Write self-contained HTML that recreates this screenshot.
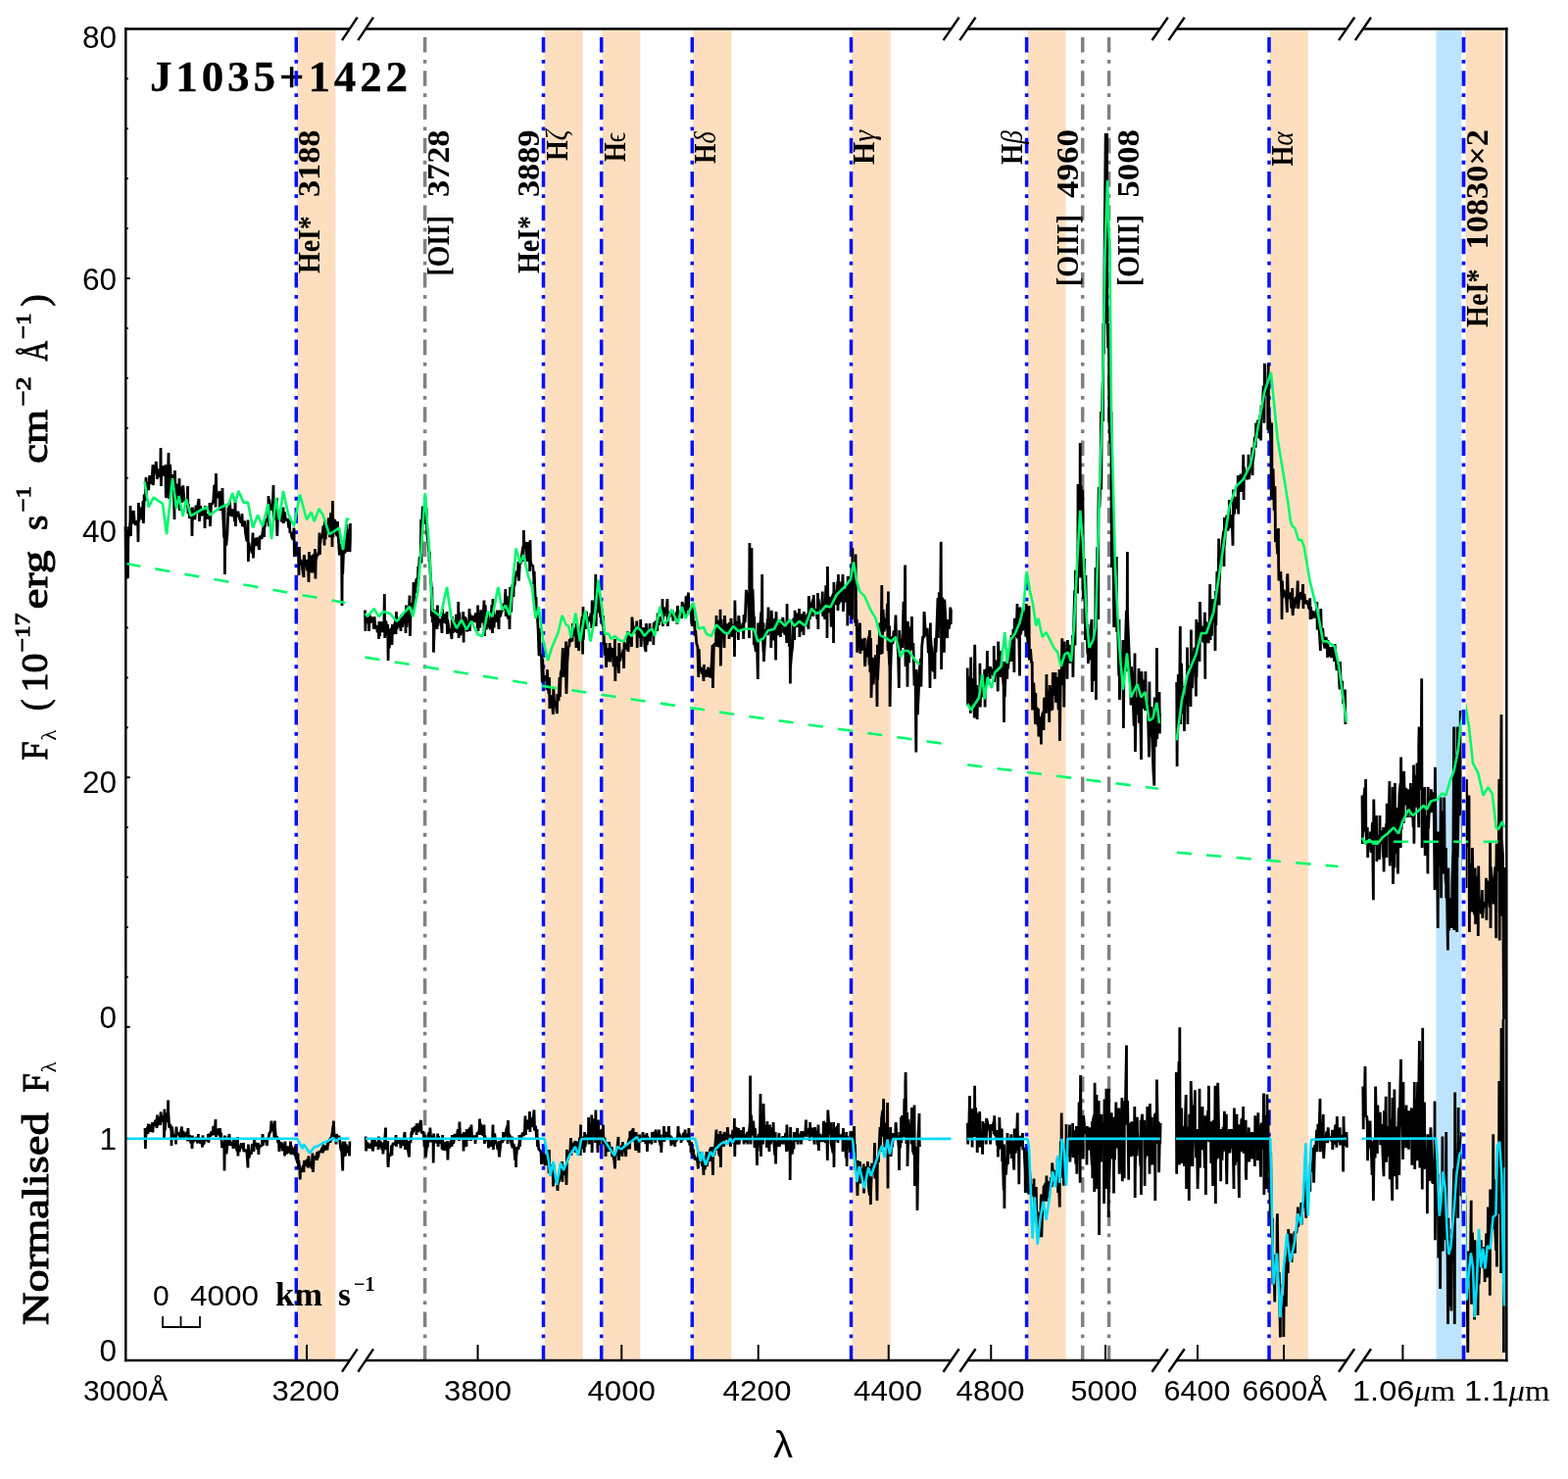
<!DOCTYPE html>
<html><head><meta charset="utf-8"><style>html,body{margin:0;padding:0;background:#fff;}svg{display:block;}</style></head>
<body><svg width="1600" height="1509" viewBox="0 0 1600 1509">
<rect width="1600" height="1509" fill="#fff"/>
<rect x="1465.5" y="30.7" width="26.09999999999991" height="1356.0" fill="#bee4fd"/>
<rect x="303.1" y="30.7" width="39.299999999999955" height="1356.0" fill="#fddfc0"/>
<rect x="555.5" y="30.7" width="39.200000000000045" height="1356.0" fill="#fddfc0"/>
<rect x="614.6" y="30.7" width="38.799999999999955" height="1356.0" fill="#fddfc0"/>
<rect x="707.2" y="30.7" width="39.299999999999955" height="1356.0" fill="#fddfc0"/>
<rect x="869.4" y="30.7" width="39.200000000000045" height="1356.0" fill="#fddfc0"/>
<rect x="1048.5" y="30.7" width="39.09999999999991" height="1356.0" fill="#fddfc0"/>
<rect x="1295.8" y="30.7" width="39.200000000000045" height="1356.0" fill="#fddfc0"/>
<rect x="1494.6" y="30.7" width="39.200000000000045" height="1356.0" fill="#fddfc0"/>
<text x="153" y="93" style="font-family:'Liberation Serif',serif;font-weight:bold;font-size:45px" stroke="#000" stroke-width="0.3" textLength="263" lengthAdjust="spacing">J1035+1422</text>
<line x1="302.3" y1="37.9" x2="302.3" y2="1049.0" stroke="#0010ff" stroke-width="3.5" stroke-dasharray="15.6 7.45 3.8 7.45"/>
<line x1="302.3" y1="1388.3" x2="302.3" y2="1049.0" stroke="#0010ff" stroke-width="3.5" stroke-dasharray="15.6 7.45 3.8 7.45"/>
<line x1="554.5" y1="37.9" x2="554.5" y2="1049.0" stroke="#0010ff" stroke-width="3.5" stroke-dasharray="15.6 7.45 3.8 7.45"/>
<line x1="554.5" y1="1388.3" x2="554.5" y2="1049.0" stroke="#0010ff" stroke-width="3.5" stroke-dasharray="15.6 7.45 3.8 7.45"/>
<line x1="613.7" y1="37.9" x2="613.7" y2="1049.0" stroke="#0010ff" stroke-width="3.5" stroke-dasharray="15.6 7.45 3.8 7.45"/>
<line x1="613.7" y1="1388.3" x2="613.7" y2="1049.0" stroke="#0010ff" stroke-width="3.5" stroke-dasharray="15.6 7.45 3.8 7.45"/>
<line x1="706.3" y1="37.9" x2="706.3" y2="1049.0" stroke="#0010ff" stroke-width="3.5" stroke-dasharray="15.6 7.45 3.8 7.45"/>
<line x1="706.3" y1="1388.3" x2="706.3" y2="1049.0" stroke="#0010ff" stroke-width="3.5" stroke-dasharray="15.6 7.45 3.8 7.45"/>
<line x1="868.5" y1="37.9" x2="868.5" y2="1049.0" stroke="#0010ff" stroke-width="3.5" stroke-dasharray="15.6 7.45 3.8 7.45"/>
<line x1="868.5" y1="1388.3" x2="868.5" y2="1049.0" stroke="#0010ff" stroke-width="3.5" stroke-dasharray="15.6 7.45 3.8 7.45"/>
<line x1="1047.6" y1="37.9" x2="1047.6" y2="1049.0" stroke="#0010ff" stroke-width="3.5" stroke-dasharray="15.6 7.45 3.8 7.45"/>
<line x1="1047.6" y1="1388.3" x2="1047.6" y2="1049.0" stroke="#0010ff" stroke-width="3.5" stroke-dasharray="15.6 7.45 3.8 7.45"/>
<line x1="1295.0" y1="37.9" x2="1295.0" y2="1049.0" stroke="#0010ff" stroke-width="3.5" stroke-dasharray="15.6 7.45 3.8 7.45"/>
<line x1="1295.0" y1="1388.3" x2="1295.0" y2="1049.0" stroke="#0010ff" stroke-width="3.5" stroke-dasharray="15.6 7.45 3.8 7.45"/>
<line x1="1493.2" y1="37.9" x2="1493.2" y2="1049.0" stroke="#0010ff" stroke-width="3.5" stroke-dasharray="15.6 7.45 3.8 7.45"/>
<line x1="1493.2" y1="1388.3" x2="1493.2" y2="1049.0" stroke="#0010ff" stroke-width="3.5" stroke-dasharray="15.6 7.45 3.8 7.45"/>
<line x1="433.6" y1="37.9" x2="433.6" y2="1049.0" stroke="#808080" stroke-width="3.5" stroke-dasharray="15.6 7.45 3.8 7.45"/>
<line x1="433.6" y1="1388.3" x2="433.6" y2="1049.0" stroke="#808080" stroke-width="3.5" stroke-dasharray="15.6 7.45 3.8 7.45"/>
<line x1="1104.7" y1="37.9" x2="1104.7" y2="1049.0" stroke="#808080" stroke-width="3.5" stroke-dasharray="15.6 7.45 3.8 7.45"/>
<line x1="1104.7" y1="1388.3" x2="1104.7" y2="1049.0" stroke="#808080" stroke-width="3.5" stroke-dasharray="15.6 7.45 3.8 7.45"/>
<line x1="1131.6" y1="37.9" x2="1131.6" y2="1049.0" stroke="#808080" stroke-width="3.5" stroke-dasharray="15.6 7.45 3.8 7.45"/>
<line x1="1131.6" y1="1388.3" x2="1131.6" y2="1049.0" stroke="#808080" stroke-width="3.5" stroke-dasharray="15.6 7.45 3.8 7.45"/>
<polyline points="128.0,537.0 128.4,582.0 128.6,565.5 129.7,575.5 130.0,540.0 130.4,590.0 130.8,549.6 131.8,543.8 132.9,531.4 133.0,516.0 133.4,547.0 134.0,521.4 135.1,531.2 136.0,534.0 136.2,523.1 136.4,521.0 137.3,533.5 138.4,535.5 139.5,532.3 140.6,531.8 141.0,553.0 141.4,513.0 141.7,532.3 142.8,520.7 143.9,517.7 145.0,530.5 146.0,511.0 146.1,525.7 146.4,534.0 147.2,504.4 148.3,510.0 149.0,487.0 149.4,511.0 149.4,500.3 150.5,491.3 151.6,500.2 152.7,485.0 153.8,492.9 154.9,492.4 156.0,474.0 156.0,492.3 156.4,495.0 157.1,478.5 158.2,482.9 159.3,470.8 160.4,488.8 161.5,478.5 162.6,486.9 163.7,484.6 164.0,457.0 164.4,496.0 164.8,477.9 165.9,475.4 167.0,484.9 168.1,484.7 169.0,474.0 169.2,501.3 169.4,508.0 170.3,479.8 171.4,485.2 172.0,462.0 172.4,509.0 172.5,488.8 173.6,473.9 174.7,495.2 175.8,487.4 176.9,484.5 178.0,530.0 178.0,497.5 178.4,480.0 179.1,503.2 180.2,493.6 181.3,509.0 182.4,517.2 183.0,488.0 183.4,521.0 183.5,506.0 184.6,496.5 185.7,512.8 186.8,495.4 187.9,511.2 189.0,509.0 190.1,514.2 191.2,516.7 191.5,496.0 191.9,524.0 192.3,514.1 193.4,529.0 194.5,518.8 195.6,520.6 196.0,547.0 196.4,517.5 196.7,530.6 197.8,521.0 198.9,530.1 200.0,515.7 201.1,523.7 202.2,513.0 203.0,509.0 203.3,525.9 203.4,532.0 204.4,515.9 205.5,526.1 206.6,524.2 207.7,521.8 208.8,519.4 209.0,539.0 209.4,516.0 209.9,529.5 211.0,525.7 212.1,525.3 213.2,529.7 214.0,513.0 214.3,528.2 214.4,537.0 215.4,514.8 216.5,513.9 217.6,512.1 218.7,495.4 219.8,495.5 220.0,517.5 220.4,483.0 220.9,505.9 222.0,504.7 223.1,508.2 224.0,501.0 224.2,517.2 224.4,521.0 225.3,504.5 226.4,513.8 227.0,498.0 227.4,524.0 227.5,521.1 228.6,548.7 229.0,517.0 229.4,586.0 229.7,547.8 230.8,556.6 231.9,545.4 233.0,517.5 234.0,526.0 234.1,514.1 234.4,511.0 235.2,523.5 236.3,526.7 237.4,519.4 238.5,522.6 239.6,532.4 240.0,511.0 240.4,537.0 240.7,523.1 241.8,526.5 242.9,521.8 244.0,528.2 245.1,530.9 246.2,533.6 247.0,524.0 247.3,532.0 247.4,537.0 248.4,535.6 249.5,531.4 250.6,544.3 251.7,551.3 252.8,551.9 253.0,530.5 253.4,573.0 253.9,553.7 255.0,560.2 256.1,559.3 257.2,564.5 258.0,543.5 258.3,558.1 258.4,569.5 259.4,549.4 260.5,557.0 261.6,548.8 262.7,550.7 263.8,557.4 264.6,561.0 264.9,550.2 265.0,547.0 266.0,547.8 267.1,549.8 268.2,541.6 269.3,536.1 269.5,548.0 269.9,534.0 270.4,537.5 271.5,530.4 272.6,529.9 273.7,528.4 274.0,506.0 274.4,537.0 274.8,509.4 275.9,520.2 277.0,514.2 278.1,521.1 279.0,495.0 279.2,526.1 279.4,530.5 280.3,513.9 281.4,529.8 282.5,508.0 282.5,533.4 282.9,547.0 283.6,520.9 284.7,524.2 285.8,527.0 286.9,530.9 288.1,532.2 289.0,517.5 289.2,526.2 289.4,534.0 290.3,522.4 291.4,529.7 292.5,531.0 293.6,529.2 294.7,538.7 295.5,530.5 295.8,542.5 295.9,543.5 296.9,542.9 298.0,548.7 299.1,550.7 300.0,538.6 300.2,554.7 300.4,568.0 301.3,553.3 302.4,563.6 303.5,564.3 304.6,566.5 305.0,587.0 305.4,558.0 305.7,572.3 306.8,571.0 307.9,575.1 309.0,583.5 310.0,589.0 310.1,569.8 310.4,566.0 311.2,577.2 312.3,570.8 313.4,582.1 314.5,577.3 315.0,594.0 315.4,563.0 315.6,579.0 316.7,583.9 317.8,566.6 318.9,584.3 320.0,565.3 321.1,582.5 321.5,560.0 321.9,590.6 322.2,572.2 323.3,567.0 324.4,566.1 325.5,561.8 326.0,543.5 326.4,566.0 326.6,555.2 327.7,547.3 328.8,548.8 329.9,537.0 331.0,537.1 331.0,556.5 331.4,530.5 332.1,550.4 333.2,535.7 334.3,543.5 335.4,528.3 336.5,548.2 337.6,523.1 338.7,535.4 339.0,558.0 339.4,511.0 339.8,548.1 340.9,530.3 342.0,531.4 343.1,543.8 344.0,547.0 344.2,537.0 344.4,532.0 345.3,549.0 346.4,566.5 347.5,554.7 348.6,561.7 349.0,618.0 349.4,555.0 349.7,585.6 350.8,555.9 351.9,564.4 353.0,559.7 354.0,535.0 354.1,551.4 354.4,563.0 355.2,539.9 356.3,550.7 357.0,563.0 357.4,549.3 357.4,534.0" fill="none" stroke="#000" stroke-width="2.8" stroke-linejoin="bevel" />
<polyline points="372.5,622.5 372.9,644.0 373.1,634.8 374.2,635.8 375.3,627.2 376.4,631.6 376.6,644.0 377.0,626.0 377.5,635.9 378.6,629.1 379.7,635.3 380.8,630.4 381.6,642.0 381.9,632.5 382.0,629.0 383.0,640.5 384.1,638.2 385.2,645.3 386.3,638.8 386.5,652.0 386.9,634.0 387.4,649.1 388.5,636.0 389.6,634.7 390.7,645.1 391.8,641.3 392.3,606.0 392.7,651.0 392.9,633.8 394.0,634.6 395.1,648.7 395.7,637.0 396.1,674.0 396.2,661.9 397.3,660.3 398.4,642.9 399.5,641.0 400.0,658.0 400.4,637.0 400.6,646.0 401.7,646.8 402.8,636.6 403.9,631.9 404.0,647.0 404.4,624.0 405.0,642.0 406.1,632.2 407.2,640.1 408.3,634.5 409.0,644.0 409.4,629.4 409.4,627.5 410.5,639.9 411.6,632.1 412.7,628.4 413.8,626.9 414.0,646.0 414.4,617.5 414.9,639.8 416.0,626.2 417.1,630.0 418.0,607.6 418.2,638.7 418.4,649.0 419.3,616.7 420.4,616.1 421.5,618.4 422.0,594.0 422.4,622.5 422.6,603.0 423.7,605.2 424.8,591.2 425.9,590.4 426.3,599.0 426.7,578.0 427.0,590.9 428.1,568.2 429.2,569.8 429.6,530.0 430.0,574.5 430.3,546.1 431.3,516.5 431.4,524.0 431.7,530.0 432.5,525.1 433.6,520.4 434.6,535.0 434.7,527.4 435.0,518.0 435.8,545.0 436.9,553.8 438.0,564.5 438.0,573.0 438.4,563.0 439.1,584.8 440.2,598.6 440.4,629.0 440.8,599.0 441.3,635.2 442.0,621.0 442.4,643.0 442.4,665.6 443.5,629.1 444.6,622.6 445.7,630.2 446.0,642.0 446.4,617.5 446.8,638.9 447.9,631.1 449.0,634.9 450.1,633.7 451.0,646.0 451.2,627.8 451.4,621.0 452.3,635.9 453.4,626.3 454.5,628.7 455.6,636.9 456.0,624.0 456.4,647.0 456.7,632.3 457.8,640.0 458.9,646.0 460.0,644.6 461.0,652.0 461.1,640.7 461.4,629.0 462.2,645.8 463.3,635.8 464.4,644.8 465.5,626.8 466.6,646.0 467.7,638.4 467.7,614.0 468.1,651.0 468.8,624.9 469.9,648.5 471.0,633.7 472.1,645.1 472.7,624.0 473.1,655.6 473.2,640.3 474.3,629.4 475.4,631.9 476.5,644.5 477.6,637.9 478.7,633.9 479.0,621.0 479.4,644.0 479.8,626.8 480.9,633.6 482.0,628.5 483.1,630.0 484.2,634.8 485.3,625.5 486.4,630.7 487.5,640.5 487.6,617.5 488.0,644.0 488.6,626.0 489.7,640.3 490.8,622.4 491.9,635.1 493.0,631.4 494.0,612.6 494.1,642.7 494.4,649.0 495.2,617.2 496.3,642.3 497.4,625.1 498.5,634.1 499.6,640.2 500.7,642.0 501.8,617.0 502.5,646.0 502.9,623.2 502.9,611.0 504.0,640.6 505.1,626.8 506.2,634.6 507.3,622.6 508.4,633.1 509.0,642.0 509.4,622.5 509.5,628.9 510.6,628.7 511.7,622.9 512.8,623.0 513.9,615.8 515.0,620.5 515.8,601.0 516.1,621.5 516.2,629.0 517.2,608.4 518.3,631.5 519.4,619.2 520.0,642.0 520.4,599.0 520.5,606.4 521.6,624.4 522.7,597.8 523.8,594.8 524.0,609.0 524.4,586.0 524.9,598.1 526.0,589.6 527.1,582.6 528.2,587.4 529.0,573.0 529.3,586.6 529.4,592.7 530.4,574.8 531.5,574.6 532.6,565.2 533.7,557.6 534.0,573.0 534.4,541.0 534.8,559.7 535.9,553.0 537.0,557.4 538.0,573.0 538.1,557.3 538.4,553.0 539.2,570.8 540.3,556.8 540.6,583.0 541.0,551.0 541.4,572.5 542.5,577.4 543.6,576.2 544.7,588.6 544.8,596.0 545.2,583.0 545.8,601.1 546.9,623.8 547.0,609.0 547.4,629.0 548.0,623.6 549.1,641.9 550.0,669.0 550.2,653.5 550.4,641.0 551.3,669.2 552.4,667.7 553.3,696.5 553.5,677.8 553.7,671.6 554.6,695.2 555.7,689.3 556.8,693.4 557.9,692.4 558.0,704.0 558.4,683.0 559.0,698.2 560.1,708.1 560.5,691.0 560.9,723.0 561.2,709.7 562.3,710.7 563.4,717.0 564.4,729.0 564.5,713.9 564.8,702.0 565.6,715.6 566.7,717.0 567.8,723.4 568.4,728.0 568.8,708.0 568.9,710.3 570.0,715.1 571.0,691.0 571.1,702.1 571.4,711.0 572.2,686.5 573.3,683.0 574.3,661.0 574.4,686.6 574.7,691.0 575.5,678.4 576.6,682.3 577.6,654.5 577.7,700.0 578.0,708.0 578.8,676.8 579.9,659.2 580.8,660.0 581.0,655.6 581.2,652.0 582.1,655.4 583.2,647.5 584.0,654.5 584.3,643.1 584.4,636.0 585.4,648.3 586.5,646.0 587.6,640.9 588.0,661.0 588.4,636.0 588.7,651.5 589.8,644.7 590.7,664.0 590.9,649.2 591.1,645.0 592.0,650.6 593.1,637.8 594.2,629.2 594.6,667.6 595.0,619.0 595.3,652.8 596.4,628.8 597.5,641.4 598.6,637.4 598.6,624.0 599.0,641.0 599.7,636.0 600.8,629.5 601.9,633.7 603.0,625.8 603.8,641.0 604.1,617.6 604.2,612.5 605.2,622.9 606.3,626.9 607.4,620.5 607.8,586.0 608.2,639.0 608.5,620.8 609.6,610.2 610.7,624.9 611.7,597.0 611.8,616.3 612.1,625.6 612.9,629.7 614.0,629.0 615.1,638.9 615.6,628.0 616.0,658.0 616.2,649.2 617.3,668.6 618.2,656.0 618.4,676.4 618.6,681.0 619.5,661.3 620.6,674.7 621.7,670.4 622.2,656.0 622.6,675.5 622.8,660.2 623.9,668.8 625.0,661.1 626.1,680.1 627.2,671.7 627.4,652.0 627.8,695.0 628.3,669.2 629.4,676.0 630.5,670.4 631.4,687.0 631.6,660.5 631.8,656.0 632.7,674.6 633.8,666.7 634.9,670.2 636.0,662.8 636.6,682.0 637.0,654.5 637.1,660.0 638.2,656.7 639.3,661.7 640.4,662.3 640.6,644.0 641.0,665.0 641.5,655.0 642.6,647.7 643.7,645.9 644.5,660.0 644.8,638.8 644.9,629.6 645.9,639.2 647.0,640.5 648.1,645.5 649.2,643.8 649.8,633.5 650.2,661.0 650.3,647.1 651.4,640.5 652.5,647.0 653.6,651.1 653.7,632.0 654.1,660.0 654.7,647.0 655.8,646.5 656.9,640.2 658.0,659.9 659.0,665.0 659.1,645.3 659.4,636.0 660.2,658.1 661.3,647.5 662.4,652.3 663.0,636.0 663.4,654.5 663.5,650.9 664.6,641.5 665.7,645.4 666.8,639.9 666.8,658.0 667.2,635.0 667.9,647.2 669.0,633.3 670.1,641.8 670.7,644.0 671.1,625.6 671.2,627.0 672.3,637.8 673.4,629.2 674.5,633.2 675.6,631.9 676.0,611.0 676.4,639.0 676.7,619.3 677.8,628.9 678.9,619.6 680.0,624.2 681.0,611.0 681.1,629.7 681.4,639.0 682.2,624.2 683.3,629.5 684.4,623.8 685.5,627.8 686.5,623.0 686.6,628.2 686.9,633.5 687.7,625.9 688.8,631.2 689.9,626.5 691.0,624.4 691.0,637.0 691.4,618.0 692.1,629.6 693.2,625.5 694.3,629.7 695.4,621.6 695.7,631.0 696.1,614.0 696.5,616.5 697.6,617.3 698.7,619.4 699.6,628.0 699.8,617.0 700.0,608.6 700.9,609.3 702.0,612.7 702.0,623.0 702.4,604.6 703.1,623.8 704.2,620.1 705.3,628.2 706.2,638.8 706.4,621.9 706.6,616.4 707.5,637.5 708.6,639.6 708.8,633.5 709.2,649.0 709.7,643.0 710.8,656.3 711.9,660.1 712.8,691.0 713.0,667.3 713.2,662.0 714.1,684.9 715.2,680.7 716.3,687.4 717.4,685.4 718.0,695.0 718.4,678.0 718.5,684.5 719.6,690.5 720.7,686.5 721.8,683.4 722.0,691.0 722.4,680.7 722.9,687.2 724.0,681.9 725.1,691.7 726.2,676.7 727.0,658.0 727.3,686.7 727.4,702.0 728.4,657.9 729.5,657.1 730.6,655.4 731.0,628.0 731.4,660.0 731.7,639.1 732.8,632.8 733.9,660.5 735.0,648.4 735.0,621.7 735.4,679.4 736.1,631.8 737.2,649.8 738.3,640.6 739.0,661.0 739.4,640.6 739.4,628.0 740.5,644.7 741.6,645.6 742.7,636.5 743.8,643.3 744.0,652.0 744.4,635.0 744.9,646.2 746.0,630.9 747.1,650.0 748.2,636.6 749.3,642.0 749.5,670.0 749.9,612.5 750.4,644.4 751.5,640.1 752.6,633.9 753.4,653.0 753.7,631.6 753.8,628.0 754.8,639.4 755.9,640.4 757.0,641.0 758.1,635.4 758.7,652.0 759.1,627.0 759.2,635.4 760.3,633.7 761.4,601.8 762.5,611.8 763.6,605.5 764.5,651.0 764.7,595.8 764.9,554.0 765.8,626.0 766.9,605.4 767.0,559.0 767.4,642.0 768.0,601.1 769.1,630.5 769.3,658.0 769.7,629.0 770.2,656.8 771.3,664.7 772.4,651.8 773.3,693.0 773.5,659.6 773.7,635.5 774.6,654.3 775.7,638.8 776.8,624.0 777.3,651.0 777.7,586.0 777.9,634.4 779.0,665.2 779.0,635.5 779.4,675.0 780.1,660.5 781.2,644.8 782.3,642.0 783.4,631.5 783.6,648.0 784.0,619.5 784.5,643.4 785.6,644.1 786.7,638.1 786.8,661.0 787.2,622.7 787.8,635.2 788.9,653.5 790.0,633.1 791.1,631.2 791.6,673.6 792.0,624.0 792.2,633.2 793.3,646.4 794.4,647.7 795.5,633.6 796.4,650.0 796.6,639.2 796.8,632.0 797.7,645.7 798.8,629.9 799.9,641.7 801.0,647.7 802.1,636.1 802.7,656.0 803.1,616.0 803.2,640.0 804.3,632.1 805.4,659.6 806.0,632.0 806.4,697.5 806.5,681.8 807.6,668.1 808.7,659.9 809.8,630.6 810.7,653.0 810.9,635.9 811.1,622.7 812.0,640.1 813.1,625.7 814.2,638.5 815.3,639.0 815.5,621.0 815.9,650.0 816.4,636.2 817.5,644.2 818.6,626.4 819.7,631.1 820.0,648.0 820.4,624.0 820.8,637.1 821.9,627.6 823.0,639.2 824.1,625.9 825.0,642.0 825.2,612.0 825.4,608.0 826.3,631.8 827.4,620.6 828.5,615.5 829.6,611.5 829.8,629.0 830.2,607.0 830.7,621.6 831.8,622.3 832.9,624.1 834.0,631.8 834.5,605.0 834.9,642.0 835.1,610.8 836.2,620.9 837.3,616.7 838.4,623.9 839.3,603.6 839.5,619.7 839.7,629.0 840.6,615.5 841.7,631.8 842.8,597.2 843.9,614.3 844.0,651.0 844.4,578.0 845.0,624.6 846.1,622.0 847.2,608.9 848.3,639.6 849.4,608.2 850.5,605.4 850.5,656.0 850.9,594.0 851.6,614.4 852.7,616.9 853.8,607.7 854.9,592.8 855.0,623.0 855.4,586.0 856.0,616.9 857.1,593.5 858.2,614.4 859.3,605.9 860.0,586.0 860.4,608.2 860.4,624.0 861.5,600.7 862.6,613.8 863.7,612.6 864.8,596.2 864.8,638.6 865.2,588.0 865.9,590.6 867.0,627.9 868.1,596.1 869.2,575.6 869.5,632.0 869.9,559.0 870.3,597.2 871.4,582.9 872.5,585.1 872.7,635.5 873.1,565.5 873.6,639.0 874.3,632.0 874.7,656.7 874.7,665.7 875.8,639.4 876.9,655.0 877.5,635.5 877.9,667.0 878.0,663.3 879.1,651.6 880.2,663.3 881.3,660.1 882.3,651.0 882.4,673.7 882.7,680.0 883.5,663.6 884.6,670.6 885.7,653.7 886.8,649.1 887.0,678.4 887.4,643.0 887.9,685.9 888.6,651.0 889.0,695.7 889.0,712.0 890.1,670.8 891.2,698.4 892.3,679.9 893.4,668.3 894.5,685.2 895.0,721.0 895.4,657.7 895.6,693.5 896.7,668.2 897.8,635.5 898.9,667.7 899.8,597.0 900.0,632.3 900.2,667.0 901.1,621.9 902.2,644.4 903.3,630.8 904.4,641.7 905.5,615.7 906.0,664.0 906.4,603.6 906.6,657.2 907.7,679.5 907.7,638.6 908.1,721.0 908.8,681.1 909.9,649.4 911.0,657.2 912.1,643.3 913.2,648.2 914.0,627.5 914.3,643.2 914.4,651.0 915.4,653.3 916.5,666.6 917.3,702.0 917.6,657.6 917.7,643.0 918.7,664.1 919.8,652.1 920.9,660.9 922.0,613.7 923.1,643.1 923.6,576.6 924.0,680.0 924.2,633.7 925.3,640.7 926.0,700.7 926.4,655.8 926.4,634.0 927.5,676.1 928.6,652.0 929.7,639.2 930.0,661.0 930.4,629.0 930.8,663.2 931.9,656.1 933.0,699.4 934.1,693.3 934.8,767.5 935.2,706.2 935.2,683.0 936.3,729.2 937.4,704.6 938.5,680.4 939.5,672.0 939.6,695.4 939.9,700.7 940.7,659.8 941.8,648.8 942.7,651.0 942.9,627.8 943.1,624.0 944.0,640.0 945.1,649.3 946.2,640.9 947.3,666.0 948.4,665.4 949.0,702.0 949.4,635.5 949.5,649.1 950.6,662.4 951.7,683.2 952.8,685.0 953.9,659.3 953.9,692.7 954.3,651.0 955.0,665.5 956.1,635.1 957.0,610.0 957.2,638.7 957.4,651.0 958.3,604.2 959.4,639.1 960.2,552.7 960.5,639.0 960.6,683.0 961.6,609.5 962.7,647.3 963.4,665.7 963.8,620.0 963.8,611.6 964.9,632.9 966.0,647.2 966.6,651.0 967.0,632.0 967.1,635.4 968.2,641.7 969.3,634.6 969.8,619.5 970.2,637.0 970.4,621.8" fill="none" stroke="#000" stroke-width="2.8" stroke-linejoin="bevel" />
<polyline points="987.2,681.6 987.6,720.0 987.8,710.8 988.9,704.7 990.0,690.1 990.3,727.7 990.7,670.4 991.1,718.7 992.2,692.0 993.3,703.4 994.3,732.5 994.4,678.8 994.7,657.7 995.5,715.5 996.6,717.0 996.7,699.0 997.1,734.0 997.7,703.6 998.8,718.0 999.9,713.1 999.9,676.8 1000.3,721.4 1001.0,692.5 1002.1,707.8 1003.2,710.7 1004.3,705.8 1004.7,683.0 1005.1,721.4 1005.4,686.8 1006.5,682.3 1007.0,699.0 1007.4,664.0 1007.6,681.7 1008.7,683.8 1009.8,680.0 1010.2,692.7 1010.6,680.0 1010.9,684.3 1012.0,682.6 1013.1,687.2 1014.2,690.2 1014.2,659.0 1014.6,696.0 1015.3,673.2 1016.4,690.1 1017.5,674.9 1018.2,705.4 1018.6,674.8 1018.6,654.5 1019.7,690.1 1020.8,668.3 1021.4,691.0 1021.8,664.0 1021.9,679.8 1023.0,687.0 1024.1,699.8 1024.5,737.0 1024.9,675.0 1025.2,711.4 1026.3,681.0 1027.4,675.4 1027.7,692.7 1028.1,667.0 1028.5,682.4 1029.6,671.0 1030.7,656.6 1031.7,675.0 1031.8,660.3 1032.1,648.0 1032.9,673.2 1034.0,641.7 1034.9,686.0 1035.0,650.0 1035.3,630.7 1036.1,649.8 1037.2,645.1 1038.0,616.0 1038.3,645.9 1038.4,651.4 1039.4,628.2 1040.5,689.5 1040.5,628.0 1040.9,619.5 1041.6,647.2 1042.7,638.9 1043.6,643.4 1043.8,626.0 1044.0,622.7 1044.9,639.9 1046.0,630.7 1046.8,649.8 1047.1,621.3 1047.2,616.0 1048.2,650.1 1049.3,656.8 1050.0,618.0 1050.4,673.6 1050.4,665.7 1051.5,662.1 1052.6,676.6 1053.2,675.0 1053.6,724.5 1053.7,715.9 1054.8,696.6 1055.9,718.4 1056.4,739.0 1056.8,707.0 1057.0,728.9 1058.1,721.7 1059.2,740.9 1059.5,723.0 1059.9,751.6 1060.3,733.5 1061.4,747.6 1062.0,731.0 1062.4,759.5 1062.5,742.8 1063.6,728.9 1064.7,726.0 1065.0,745.0 1065.4,711.8 1065.8,725.8 1066.9,712.9 1067.5,727.7 1067.9,688.0 1068.0,704.0 1069.1,712.6 1070.2,713.3 1070.7,737.0 1071.1,699.0 1071.3,706.2 1072.4,725.2 1073.5,701.7 1073.9,724.5 1074.3,686.0 1074.6,709.2 1075.7,706.3 1076.8,707.0 1077.0,686.0 1077.4,715.0 1077.9,716.8 1079.0,690.7 1080.1,724.3 1081.0,683.0 1081.2,736.2 1081.4,756.0 1082.3,693.4 1083.4,699.0 1083.4,673.5 1083.8,651.4 1084.5,673.3 1085.6,685.6 1085.8,721.4 1086.2,654.5 1086.7,677.9 1087.8,666.6 1088.9,667.1 1089.0,692.7 1089.4,653.0 1090.0,671.8 1091.1,675.3 1091.4,657.7 1091.8,676.8 1092.2,664.6 1093.3,674.0 1094.4,672.4 1094.5,648.0 1094.9,691.0 1095.5,645.9 1096.6,602.3 1097.0,658.5 1097.4,581.7 1097.7,594.8 1098.8,590.8 1099.6,605.5 1099.9,544.7 1100.0,494.0 1101.0,553.9 1102.1,527.0 1102.2,452.0 1102.6,589.6 1103.2,495.4 1104.3,561.5 1104.9,499.5 1105.3,611.0 1105.4,582.2 1106.5,570.1 1107.5,653.0 1107.6,624.6 1107.9,587.0 1108.7,638.8 1109.8,666.9 1110.0,637.0 1110.4,677.0 1110.9,653.6 1112.0,673.4 1113.1,642.0 1114.0,632.0 1114.2,692.8 1114.4,706.0 1115.3,647.9 1116.4,687.3 1117.5,694.9 1118.0,579.0 1118.4,714.0 1118.6,622.4 1119.7,558.3 1120.8,632.0 1120.8,522.8 1121.2,497.0 1121.9,517.8 1123.0,490.8 1123.4,420.0 1123.8,499.5 1124.1,444.6 1125.2,389.5 1125.5,430.0 1125.9,330.0 1126.3,361.2 1127.4,218.5 1128.2,136.0 1128.5,246.5 1128.6,330.0 1129.6,136.0 1129.6,280.9 1130.0,330.0 1130.7,355.1 1131.5,330.0 1131.8,412.9 1131.9,430.0 1132.9,452.5 1134.0,420.0 1134.0,510.0 1134.4,579.0 1135.1,510.1 1136.2,585.5 1136.7,640.0 1137.1,566.0 1137.3,601.6 1138.4,627.5 1139.3,568.0 1139.5,630.7 1139.7,645.0 1140.6,638.6 1141.7,689.5 1142.0,632.0 1142.4,714.0 1142.8,698.8 1143.9,673.8 1145.0,692.6 1146.0,653.0 1146.1,701.6 1146.4,743.0 1147.2,657.0 1148.3,661.2 1149.4,622.8 1150.0,685.0 1150.4,563.0 1150.5,625.5 1151.6,653.2 1152.7,679.6 1153.8,696.2 1154.0,719.5 1154.4,680.0 1154.9,686.4 1156.0,708.6 1157.1,740.6 1158.0,666.5 1158.2,731.1 1158.4,767.0 1159.3,711.4 1160.4,729.1 1161.5,714.1 1162.0,682.0 1162.4,738.0 1162.6,709.9 1163.7,725.8 1164.5,775.0 1164.8,704.8 1164.9,685.0 1165.9,722.9 1167.0,712.4 1168.1,693.4 1168.5,725.0 1168.9,685.0 1169.2,714.9 1170.3,719.0 1171.4,725.5 1172.5,772.5 1172.5,726.5 1172.9,695.6 1173.6,751.8 1174.7,721.1 1175.8,758.0 1176.9,786.3 1177.8,801.6 1178.0,721.2 1178.2,711.5 1179.1,761.9 1180.2,735.0 1180.4,661.0 1180.8,754.0 1181.3,716.9 1182.4,739.1 1183.0,706.0 1183.4,748.6 1183.5,728.2" fill="none" stroke="#000" stroke-width="2.8" stroke-linejoin="bevel" />
<polyline points="1200.7,696.0 1201.1,782.0 1201.2,758.7 1202.3,688.1 1203.4,734.0 1204.3,639.0 1204.5,710.6 1204.7,739.0 1205.6,676.9 1206.7,728.2 1207.8,721.4 1208.0,700.0 1208.4,746.0 1208.9,709.8 1210.0,714.4 1211.1,718.5 1211.5,660.5 1211.9,739.0 1212.2,692.7 1213.3,693.9 1214.4,678.8 1215.0,721.0 1215.4,642.6 1215.5,674.6 1216.6,702.2 1217.7,674.2 1218.8,660.7 1219.9,672.2 1220.4,710.6 1220.8,632.0 1221.0,691.1 1222.1,637.1 1223.2,635.4 1224.0,675.0 1224.3,631.6 1224.4,614.0 1225.4,646.1 1226.5,638.8 1227.6,655.0 1228.7,654.4 1229.4,624.8 1229.8,692.7 1229.8,662.3 1230.9,634.5 1232.0,640.8 1233.1,656.2 1234.2,637.6 1234.7,596.0 1235.1,653.0 1235.3,616.7 1236.4,648.8 1237.5,611.4 1238.6,635.2 1239.7,610.7 1240.0,664.0 1240.4,603.0 1240.8,637.9 1241.9,583.1 1243.0,605.9 1243.7,549.6 1244.1,617.6 1244.1,598.0 1245.2,573.6 1246.3,567.2 1247.4,552.4 1248.5,542.0 1249.0,578.0 1249.4,528.0 1249.6,555.8 1250.7,538.0 1251.8,525.6 1252.9,541.6 1254.0,535.7 1254.4,510.0 1254.8,539.0 1255.1,529.6 1256.2,525.1 1257.3,534.1 1258.0,556.8 1258.4,499.5 1258.4,523.1 1259.5,524.6 1260.6,506.9 1261.7,509.7 1262.8,519.2 1263.3,485.0 1263.7,524.6 1263.9,502.0 1265.0,499.8 1266.1,483.5 1267.2,501.8 1268.3,496.5 1268.7,463.8 1269.1,510.0 1269.4,476.8 1270.5,482.1 1271.6,481.9 1272.7,489.4 1273.8,484.3 1274.0,463.8 1274.4,488.8 1274.9,483.5 1276.0,470.2 1277.1,478.5 1277.7,456.6 1278.1,485.0 1278.2,471.9 1279.3,464.2 1280.4,445.6 1281.2,456.6 1281.5,443.7 1281.6,431.6 1282.6,443.2 1283.7,428.3 1284.8,447.3 1285.9,423.8 1286.6,449.4 1287.0,413.7 1287.0,421.4 1288.1,418.3 1289.2,393.6 1290.0,431.6 1290.3,385.5 1290.4,370.7 1291.4,402.4 1292.5,401.6 1293.6,395.0 1293.8,438.7 1294.2,370.7 1294.7,425.9 1295.8,429.5 1296.9,454.6 1297.3,510.0 1297.7,431.6 1298.0,488.5 1299.1,478.2 1300.2,521.1 1301.0,496.0 1301.3,526.8 1301.4,553.0 1302.4,540.5 1303.5,565.2 1304.5,539.0 1304.6,572.0 1304.9,592.5 1305.7,586.5 1306.8,583.1 1307.9,611.0 1308.0,632.0 1308.4,592.5 1309.0,610.4 1310.1,601.7 1311.2,608.2 1312.3,607.3 1313.4,624.8 1313.4,592.8 1313.8,585.4 1314.5,611.0 1315.6,604.6 1316.7,609.4 1317.8,620.6 1318.8,600.0 1318.9,621.6 1319.2,628.0 1320.0,610.9 1321.1,620.6 1322.2,608.9 1323.3,615.9 1324.2,592.5 1324.4,611.7 1324.6,621.0 1325.5,612.7 1326.6,606.1 1327.7,604.6 1328.8,612.1 1329.5,596.0 1329.9,621.0 1329.9,615.8 1331.0,606.0 1332.1,616.1 1333.2,613.9 1334.3,613.2 1335.4,619.9 1336.5,621.4 1336.7,610.4 1337.1,632.0 1337.6,619.1 1338.7,631.4 1339.8,623.7 1340.9,626.0 1342.0,630.3 1343.1,626.7 1343.8,614.0 1344.2,642.6 1344.2,636.1 1345.3,634.6 1346.4,646.1 1347.4,664.0 1347.5,636.0 1347.8,621.0 1348.6,655.5 1349.7,640.8 1350.8,655.2 1351.9,661.5 1353.0,649.9 1354.1,656.6 1354.6,671.0 1355.0,653.0 1355.2,666.0 1356.3,669.6 1357.4,660.1 1358.5,671.0 1359.6,662.0 1360.7,659.9 1361.7,675.0 1361.8,667.2 1362.1,657.0 1362.9,668.1 1364.0,683.9 1365.1,680.2 1366.2,685.7 1367.0,703.5 1367.3,682.2 1367.4,675.0 1368.4,703.0 1369.5,694.5 1370.6,718.0 1371.7,708.9 1372.5,703.5 1372.8,729.3 1372.9,739.0" fill="none" stroke="#000" stroke-width="2.8" stroke-linejoin="bevel" />
<polyline points="1390.0,811.5 1390.4,861.0 1390.5,840.5 1391.6,815.8 1392.7,803.7 1393.2,848.4 1393.6,795.0 1393.8,848.0 1394.9,861.6 1395.3,844.0 1395.7,875.0 1396.0,854.3 1397.1,860.2 1398.2,861.3 1398.4,848.4 1398.8,867.0 1399.3,869.8 1400.4,839.0 1401.4,918.3 1401.5,860.1 1401.8,815.6 1402.6,862.6 1403.7,848.5 1404.5,832.0 1404.8,865.6 1404.9,879.0 1405.9,854.5 1407.0,852.1 1407.6,877.0 1408.0,832.0 1408.1,852.5 1409.2,860.9 1410.3,847.4 1411.4,875.3 1411.7,844.0 1412.1,889.5 1412.5,852.2 1413.6,853.8 1414.7,840.1 1414.8,875.0 1415.2,819.7 1415.8,832.0 1416.9,847.5 1417.9,797.0 1418.0,871.3 1418.3,883.4 1419.1,853.7 1420.2,878.6 1421.0,803.0 1421.3,871.4 1421.4,902.0 1422.4,860.2 1423.0,885.4 1423.4,799.0 1423.5,821.9 1424.6,870.7 1425.7,862.7 1426.0,823.8 1426.4,891.6 1426.8,859.6 1427.9,810.9 1429.0,799.5 1429.2,865.0 1429.6,772.4 1430.1,846.5 1431.2,805.5 1432.2,840.0 1432.3,805.4 1432.6,786.8 1433.4,821.3 1434.5,803.9 1435.6,810.8 1436.4,834.0 1436.7,810.4 1436.8,805.3 1437.8,820.1 1438.9,825.1 1439.4,799.0 1439.8,834.0 1440.0,803.4 1441.1,818.9 1442.2,844.2 1442.5,780.6 1442.9,860.8 1443.3,801.6 1444.4,805.9 1445.5,790.9 1445.6,823.8 1446.0,778.6 1446.6,805.9 1447.7,844.3 1447.7,762.3 1448.1,741.6 1448.8,765.6 1449.9,805.7 1450.7,692.3 1451.0,826.8 1451.1,865.0 1452.1,805.9 1453.2,837.7 1453.8,803.0 1454.2,873.0 1454.3,855.5 1455.4,841.7 1456.5,831.9 1456.9,891.6 1457.3,803.0 1457.6,845.3 1458.7,818.2 1459.8,814.4 1460.0,828.0 1460.4,805.3 1460.9,829.3 1462.0,808.3 1463.1,813.8 1464.0,908.0 1464.2,808.2 1464.4,782.7 1465.3,880.3 1466.4,858.6 1467.2,947.0 1467.5,869.1 1467.6,848.4 1468.6,883.3 1469.7,877.9 1470.2,813.5 1470.6,916.2 1470.8,862.3 1471.9,887.3 1473.0,827.5 1473.3,891.6 1473.7,813.5 1474.1,866.2 1475.2,900.6 1475.4,865.0 1475.8,916.2 1476.3,894.2 1477.4,969.6 1477.4,920.1 1477.8,885.4 1478.5,949.5 1479.6,916.4 1480.7,923.1 1481.5,947.0 1481.8,903.0 1481.9,895.7 1482.9,865.5 1483.6,741.6 1484.0,949.0 1484.0,851.6 1485.1,793.0 1486.2,770.1 1486.7,951.0 1487.1,741.6 1487.3,875.1 1488.4,803.6 1489.5,774.7 1489.8,832.0 1490.2,725.0 1490.6,808.4 1491.7,785.3 1492.8,885.4 1492.8,825.7 1493.2,772.4 1493.9,845.8 1495.0,841.5 1496.0,906.0 1496.1,811.5 1496.4,795.0 1497.2,864.4 1498.3,835.6 1499.0,811.5 1499.4,951.0 1499.4,919.1 1500.5,880.7 1501.6,890.9 1502.0,930.6 1502.4,865.0 1502.7,884.9 1503.8,929.1 1504.9,933.3 1505.2,885.4 1505.6,943.0 1506.0,911.2 1507.1,909.5 1508.2,893.6 1508.3,955.0 1508.7,883.4 1509.3,928.6 1510.4,921.3 1511.5,932.3 1512.4,908.0 1512.6,929.7 1512.8,936.8 1513.7,923.1 1514.8,920.3 1515.9,925.7 1516.5,895.7 1516.9,938.8 1517.0,914.7 1518.1,898.7 1519.2,914.3 1520.3,925.8 1520.6,858.7 1521.0,947.0 1521.4,884.5 1522.5,915.5 1523.6,918.7 1523.7,895.7 1524.1,922.4 1524.7,896.0 1525.8,884.4 1526.7,957.3 1526.9,881.9 1527.1,860.8 1528.0,876.2 1529.1,888.8 1529.8,795.0 1530.2,959.4 1530.2,904.6 1531.3,833.7 1532.0,729.0 1532.4,934.7 1532.4,857.3 1533.5,872.9 1534.5,1040.0 1534.6,907.5 1534.9,885.0" fill="none" stroke="#000" stroke-width="2.8" stroke-linejoin="bevel" />
<polyline points="148.0,1151.0 148.4,1172.0 148.6,1160.6 149.7,1153.2 150.8,1149.8 151.0,1157.0 151.4,1146.5 151.8,1152.7 152.9,1147.4 154.0,1154.7 155.1,1150.3 155.5,1145.0 155.9,1155.5 156.2,1149.6 157.3,1147.9 158.4,1143.8 159.5,1142.8 160.0,1151.0 160.4,1137.5 160.6,1148.4 161.7,1141.2 162.8,1140.5 163.7,1148.0 163.9,1137.6 164.1,1134.5 165.0,1142.9 166.1,1144.4 167.2,1137.7 167.5,1163.0 167.9,1131.5 168.3,1153.4 169.4,1141.0 170.5,1135.3 171.2,1145.0 171.6,1122.5 171.6,1131.4 172.7,1150.7 173.8,1146.9 174.9,1154.5 175.0,1169.0 175.4,1149.5 176.0,1153.7 177.1,1162.6 178.2,1158.0 179.3,1158.5 179.5,1167.5 179.9,1149.5 180.4,1155.1 181.5,1158.2 182.6,1155.2 183.7,1160.6 184.8,1153.8 185.5,1149.5 185.9,1163.0 185.9,1156.4 187.0,1154.0 188.1,1160.5 189.2,1156.8 190.3,1156.8 191.4,1154.2 191.5,1164.5 191.9,1151.0 192.5,1161.9 193.6,1158.1 194.7,1166.4 195.8,1165.0 196.0,1172.0 196.4,1158.5 196.9,1165.8 198.0,1162.2 199.1,1163.8 200.2,1160.1 201.3,1165.4 202.0,1166.0 202.4,1157.0 202.4,1161.6 203.5,1162.8 204.6,1166.5 205.7,1162.9 206.5,1170.5 206.8,1161.3 206.9,1158.5 207.9,1167.8 209.0,1162.1 210.1,1163.7 211.2,1161.9 212.3,1163.8 212.5,1157.0 212.9,1166.0 213.4,1156.7 214.5,1160.0 215.6,1154.5 216.7,1158.3 217.8,1148.9 218.9,1158.1 220.0,1142.0 220.0,1151.2 220.4,1160.0 221.1,1153.7 222.2,1151.6 223.3,1157.7 224.4,1157.6 224.5,1151.0 224.9,1163.0 225.5,1155.7 226.6,1171.2 227.7,1164.9 228.8,1168.9 229.0,1194.5 229.4,1158.5 229.9,1169.0 231.0,1177.3 232.1,1167.7 233.2,1159.3 233.5,1169.0 233.9,1157.0 234.3,1161.4 235.4,1168.8 236.5,1165.5 237.6,1166.6 238.0,1172.0 238.4,1163.0 238.7,1168.5 239.8,1163.4 240.9,1169.8 242.0,1174.3 242.5,1160.0 242.9,1179.5 243.1,1169.7 244.2,1175.3 245.3,1170.2 246.4,1166.3 247.5,1171.5 248.5,1166.0 248.6,1173.1 248.9,1175.0 249.7,1173.2 250.8,1174.0 251.9,1175.8 253.0,1191.5 253.0,1176.4 253.4,1167.5 254.1,1181.6 255.2,1175.7 256.3,1177.9 257.4,1167.2 258.5,1169.4 259.0,1175.0 259.4,1163.0 259.6,1169.5 260.7,1166.2 261.8,1167.3 262.9,1172.6 263.5,1166.0 263.9,1178.0 264.0,1172.4 265.1,1168.5 266.2,1169.5 267.3,1168.6 268.0,1157.0 268.4,1169.0 268.4,1164.4 269.5,1162.0 270.6,1163.9 271.7,1165.2 272.5,1169.0 272.8,1163.2 272.9,1161.5 273.9,1161.3 275.0,1155.7 276.1,1155.1 277.0,1143.5 277.2,1149.1 277.4,1154.0 278.3,1146.6 279.4,1150.0 280.0,1163.0 280.4,1143.5 280.5,1149.4 281.6,1161.7 282.8,1159.6 283.9,1166.3 284.5,1163.0 284.9,1175.0 285.0,1170.5 286.1,1167.4 287.2,1165.5 288.3,1174.2 289.4,1167.6 290.5,1167.9 290.5,1179.5 290.9,1164.5 291.6,1174.6 292.7,1177.2 293.8,1169.5 294.9,1176.0 296.0,1174.4 296.5,1164.5 296.9,1178.0 297.1,1168.6 298.2,1176.0 299.3,1177.2 300.4,1171.1 301.0,1179.5 301.4,1169.0 301.5,1175.0 302.6,1182.8 303.7,1186.6 304.0,1176.5 304.4,1193.0 304.8,1184.2 305.9,1193.3 306.2,1203.5 306.6,1193.0 307.0,1194.7 308.1,1194.9 309.2,1189.1 310.0,1196.0 310.3,1185.2 310.4,1184.0 311.4,1186.4 312.5,1189.9 313.6,1182.7 314.5,1191.5 314.7,1182.4 314.9,1179.5 315.8,1189.5 316.9,1186.1 318.0,1192.2 319.0,1176.5 319.1,1186.1 319.4,1196.0 320.2,1182.2 321.3,1179.6 322.4,1182.9 323.5,1176.4 323.5,1184.0 323.9,1175.0 324.6,1181.2 325.7,1174.4 326.8,1175.7 327.9,1173.3 329.0,1170.8 329.5,1176.5 329.9,1167.5 330.1,1173.6 331.2,1173.1 332.3,1170.0 333.4,1169.1 334.0,1173.5 334.4,1166.0 334.5,1168.4 335.6,1164.7 336.7,1161.9 337.0,1166.0 337.4,1160.0 337.8,1163.6 338.9,1157.1 340.0,1148.7 340.0,1163.0 340.4,1143.5 341.1,1160.2 342.2,1158.4 343.0,1167.5 343.3,1158.6 343.4,1157.0 344.4,1161.8 345.5,1162.3 346.0,1158.5 346.4,1164.5 346.6,1162.9 347.7,1172.1 348.8,1175.0 349.7,1194.5 349.9,1180.0 350.1,1164.5 351.0,1180.2 352.0,1164.5 352.1,1173.5 352.4,1179.5 353.2,1167.3 354.3,1176.2 355.4,1171.4 356.5,1169.7 356.5,1179.5 356.9,1164.5" fill="none" stroke="#000" stroke-width="2.8" stroke-linejoin="bevel" />
<polyline points="373.2,1159.5 373.6,1174.5 373.8,1170.0 374.9,1165.5 376.0,1171.4 377.1,1166.8 378.2,1171.8 379.3,1167.6 380.0,1162.5 380.4,1170.2 380.4,1174.5 381.5,1166.0 382.6,1163.4 383.7,1169.2 384.8,1166.0 385.9,1166.8 386.0,1173.0 386.4,1159.5 387.0,1171.0 388.1,1163.9 389.2,1169.8 390.3,1173.6 390.5,1165.5 390.9,1177.5 391.4,1168.9 392.5,1165.6 393.5,1150.5 393.6,1168.2 393.9,1173.0 394.7,1170.7 395.7,1164.0 395.8,1185.1 396.1,1191.0 396.9,1177.0 398.0,1179.2 399.1,1177.9 399.5,1168.5 399.9,1179.0 400.2,1169.7 401.3,1166.2 402.4,1167.5 403.5,1166.7 404.0,1158.0 404.4,1170.0 404.6,1164.1 405.7,1162.4 406.8,1165.5 407.9,1166.5 408.5,1161.0 408.9,1171.5 409.0,1166.8 410.1,1161.8 411.2,1169.1 412.3,1160.1 413.0,1155.0 413.4,1165.6 413.4,1173.0 414.5,1161.1 415.6,1168.4 416.7,1175.3 417.5,1180.5 417.8,1166.6 417.9,1164.0 418.9,1166.2 420.0,1154.7 420.5,1158.0 420.9,1150.5 421.1,1155.7 422.2,1152.2 423.3,1149.9 424.4,1149.7 425.0,1158.0 425.4,1146.0 425.5,1151.5 426.6,1154.8 427.7,1151.3 428.8,1145.5 429.5,1143.0 429.9,1150.1 429.9,1155.0 431.0,1155.9 432.1,1154.4 433.2,1170.5 434.0,1158.0 434.3,1170.9 434.4,1180.5 435.4,1170.8 436.5,1169.3 437.6,1155.4 438.5,1164.0 438.7,1156.5 438.9,1150.5 439.8,1165.4 440.9,1161.5 442.0,1159.8 442.2,1186.5 442.6,1156.5 443.1,1163.3 444.2,1160.4 445.3,1166.3 446.4,1164.4 446.7,1156.5 447.1,1170.0 447.5,1159.3 448.6,1166.6 449.7,1161.4 450.8,1165.3 451.2,1173.0 451.6,1158.0 451.9,1167.3 453.0,1173.7 454.1,1165.3 455.2,1173.0 456.3,1173.0 456.5,1164.0 456.9,1183.5 457.4,1168.1 458.5,1171.4 459.6,1165.8 460.7,1162.8 461.0,1170.0 461.4,1158.0 461.8,1166.2 462.9,1166.1 464.0,1157.0 465.1,1160.9 466.2,1159.4 467.3,1152.1 468.4,1155.2 468.5,1164.0 468.9,1144.5 469.5,1160.7 470.6,1160.4 471.7,1157.3 472.8,1158.4 473.0,1174.5 473.4,1155.0 473.9,1169.7 475.0,1162.3 476.0,1170.0 476.1,1159.3 476.4,1152.0 477.2,1163.7 478.3,1154.1 479.4,1150.7 480.5,1155.4 480.5,1164.0 480.9,1147.5 481.6,1160.4 482.7,1159.7 483.8,1159.9 484.9,1161.5 485.0,1167.0 485.4,1158.0 486.0,1161.7 487.1,1155.5 488.2,1156.8 489.3,1151.3 489.5,1141.5 489.9,1158.0 490.4,1146.6 491.5,1149.8 492.6,1158.2 493.7,1157.7 494.0,1147.5 494.4,1167.0 494.8,1158.9 495.9,1163.8 497.0,1162.6 498.1,1161.8 498.5,1171.5 498.9,1161.0 499.2,1163.0 500.3,1168.9 501.4,1168.9 502.5,1163.9 503.0,1147.5 503.4,1173.0 503.6,1168.8 504.7,1156.3 505.8,1165.9 506.9,1167.1 508.0,1172.9 509.0,1164.0 509.1,1174.2 509.4,1180.5 510.2,1172.7 511.3,1163.6 512.4,1165.8 513.5,1161.9 513.5,1155.0 513.9,1164.0 514.6,1156.4 515.7,1159.2 516.8,1151.9 517.9,1148.2 518.0,1167.0 518.4,1143.0 519.0,1156.9 520.1,1158.3 521.2,1163.9 522.3,1168.9 522.5,1159.5 522.9,1171.5 523.4,1167.3 524.5,1168.5 525.6,1183.6 526.2,1170.0 526.6,1191.0 526.7,1180.9 527.8,1170.4 528.9,1172.8 530.0,1165.8 530.0,1158.0 530.4,1170.0 531.1,1160.7 532.2,1160.2 533.3,1155.6 534.4,1159.0 535.5,1151.9 536.0,1138.5 536.4,1158.0 536.6,1143.0 537.7,1152.4 538.8,1142.7 539.9,1152.1 540.5,1134.0 540.9,1155.0 541.0,1143.8 542.1,1140.1 543.2,1150.2 544.3,1139.4 545.0,1132.5 545.4,1148.1 545.4,1153.5 546.5,1148.5 547.6,1162.8 548.0,1152.0 548.4,1170.0 548.7,1160.4 549.8,1173.0 550.9,1173.5 552.0,1175.2 552.5,1188.0 552.9,1176.0 553.1,1182.2 554.2,1182.9 555.3,1186.7 555.5,1177.5 555.9,1189.5 556.4,1178.7 557.5,1188.6 558.6,1177.3 559.7,1180.1 560.0,1197.0 560.4,1173.0 560.8,1196.4 561.9,1198.5 563.0,1188.8 564.1,1189.3 564.5,1210.5 564.9,1188.0 565.2,1195.1 566.3,1204.8 567.4,1205.1 568.5,1205.6 569.0,1215.0 569.4,1203.0 569.6,1207.1 570.7,1203.8 571.8,1200.4 572.9,1198.4 573.5,1185.0 573.9,1206.0 574.0,1199.2 575.1,1189.1 576.2,1199.0 577.3,1190.2 578.0,1209.0 578.4,1189.5 578.4,1173.0 579.5,1183.7 580.6,1175.0 581.7,1178.2 582.5,1161.0 582.8,1171.3 582.9,1179.0 583.9,1165.8 585.0,1174.4 586.1,1167.5 587.0,1164.0 587.2,1171.7 587.4,1176.0 588.3,1168.1 589.4,1164.6 590.5,1173.6 591.6,1160.3 592.2,1179.0 592.6,1147.5 592.7,1163.7 593.8,1172.3 594.9,1162.3 596.0,1159.8 596.2,1176.0 596.6,1155.0 597.1,1170.2 598.2,1160.4 599.3,1157.5 600.4,1162.3 600.6,1140.0 601.0,1167.5 601.5,1158.7 602.6,1146.3 603.7,1166.2 603.7,1137.5 604.1,1176.0 604.8,1141.5 605.9,1151.8 607.0,1141.5 607.5,1166.0 607.9,1132.5 608.1,1158.3 609.2,1151.0 610.0,1176.0 610.3,1159.2 610.4,1142.5 611.4,1168.1 612.5,1157.2 613.6,1152.8 614.7,1153.0 615.0,1167.5 615.4,1147.5 615.8,1162.3 616.9,1161.0 618.0,1171.1 618.0,1180.0 618.4,1165.0 619.1,1174.9 620.2,1170.3 621.0,1175.0 621.3,1170.4 621.4,1165.0 622.4,1172.1 623.5,1174.4 624.4,1170.0 624.6,1178.3 624.8,1180.0 625.7,1178.6 626.8,1184.2 627.5,1192.5 627.9,1180.2 627.9,1175.0 629.0,1178.9 630.1,1169.3 631.0,1160.0 631.2,1179.5 631.4,1184.0 632.3,1172.3 633.4,1176.3 634.5,1168.6 635.0,1180.0 635.4,1165.0 635.6,1171.4 636.7,1174.9 637.8,1171.2 638.7,1180.0 638.9,1171.4 639.1,1170.0 640.0,1172.2 641.1,1165.5 642.2,1161.7 642.5,1172.5 642.9,1154.0 643.3,1165.7 644.4,1154.3 645.5,1153.4 645.6,1165.0 646.0,1151.0 646.6,1160.3 647.7,1158.3 648.7,1174.0 648.8,1162.6 649.1,1155.0 649.9,1165.9 651.0,1167.9 652.0,1176.0 652.1,1166.4 652.4,1157.5 653.2,1165.2 654.3,1162.8 655.4,1163.0 656.0,1155.0 656.4,1165.0 656.5,1160.7 657.6,1157.9 658.7,1166.4 659.8,1166.0 660.0,1156.0 660.4,1175.0 660.9,1159.5 662.0,1164.9 663.1,1165.5 664.2,1161.5 665.0,1167.5 665.3,1158.9 665.4,1155.0 666.4,1163.1 667.5,1156.2 668.6,1155.1 668.7,1166.0 669.1,1152.5 669.7,1158.8 670.8,1156.9 671.9,1163.1 672.5,1152.5 672.9,1165.0 673.0,1163.5 674.1,1168.9 674.4,1157.5 674.8,1176.0 675.2,1162.9 676.3,1162.0 677.4,1163.5 677.5,1149.0 677.9,1165.0 678.5,1154.8 679.6,1160.5 680.7,1155.2 681.8,1159.7 682.5,1149.0 682.9,1160.4 682.9,1161.0 684.0,1158.4 685.0,1169.0 685.1,1162.0 685.4,1160.0 686.2,1167.1 687.3,1163.7 688.4,1163.8 688.7,1170.0 689.1,1162.5 689.5,1164.4 690.6,1163.2 691.7,1157.5 692.0,1149.0 692.4,1160.0 692.8,1156.1 693.9,1159.2 695.0,1161.1 695.0,1166.0 695.4,1160.0 696.1,1163.7 697.2,1157.0 698.3,1155.9 698.7,1162.5 699.1,1152.5 699.4,1161.5 700.5,1156.9 701.6,1161.9 702.5,1165.0 702.7,1158.7 702.9,1151.0 703.8,1168.1 704.9,1168.3 705.0,1176.0 705.4,1165.0 706.0,1176.0 707.1,1178.5 707.5,1172.5 707.9,1181.0 708.2,1177.9 709.3,1183.4 710.4,1181.1 711.5,1183.3 712.5,1192.5 712.6,1178.8 712.9,1175.0 713.7,1185.9 714.8,1180.2 715.9,1186.3 716.0,1175.0 716.4,1190.0 717.0,1183.0 718.0,1199.0 718.1,1189.8 718.4,1182.5 719.2,1193.3 720.3,1186.6 721.0,1175.0 721.4,1185.6 721.4,1190.0 722.5,1182.2 723.6,1178.9 724.7,1172.3 725.0,1185.0 725.4,1170.0 725.8,1179.0 726.9,1181.7 727.5,1199.0 727.9,1170.0 728.0,1178.2 729.1,1177.7 730.2,1163.0 731.0,1152.5 731.3,1168.8 731.4,1174.0 732.4,1157.2 733.5,1176.8 734.6,1179.9 735.0,1154.0 735.4,1191.0 735.7,1171.2 736.8,1158.1 737.9,1158.7 738.7,1170.0 739.0,1162.3 739.1,1155.0 740.1,1160.7 741.2,1160.7 742.0,1162.5 742.3,1154.2 742.4,1150.0 743.4,1164.1 744.5,1167.1 745.0,1157.5 745.4,1170.0 745.6,1162.8 746.7,1166.6 747.8,1152.8 748.9,1166.3 749.4,1141.0 749.8,1180.0 750.0,1162.8 751.1,1149.8 752.2,1167.6 753.3,1161.6 753.7,1151.0 754.1,1167.5 754.4,1164.8 755.5,1153.2 756.6,1161.5 757.7,1160.8 758.7,1150.0 758.8,1162.7 759.1,1167.5 759.9,1156.9 761.0,1165.2 762.1,1162.4 762.5,1155.0 762.9,1167.5 763.2,1154.9 764.3,1156.2 765.4,1144.6 765.6,1097.5 766.0,1167.5 766.5,1137.6 767.6,1158.3 768.7,1143.6 769.8,1159.8 770.0,1171.0 770.4,1151.0 770.9,1158.2 772.0,1167.8 772.5,1189.0 772.9,1160.0 773.1,1174.7 774.2,1156.9 775.3,1169.5 776.0,1116.0 776.4,1159.4 776.4,1180.0 777.5,1148.8 778.6,1145.0 778.7,1167.5 779.1,1126.0 779.7,1154.0 780.8,1161.3 781.9,1147.9 782.5,1171.0 782.9,1144.0 783.0,1154.4 784.1,1158.5 785.0,1175.0 785.2,1152.3 785.4,1147.5 786.3,1167.3 787.4,1155.7 788.5,1150.3 788.7,1165.0 789.1,1145.0 789.6,1162.6 790.7,1178.6 791.2,1155.0 791.6,1187.5 791.8,1171.3 792.9,1168.0 794.0,1167.1 795.0,1156.0 795.1,1163.1 795.4,1170.0 796.2,1160.4 797.3,1167.0 798.4,1163.7 798.7,1159.0 799.1,1167.5 799.5,1164.7 800.6,1166.3 801.7,1155.9 802.5,1175.0 802.8,1160.5 802.9,1147.5 803.9,1174.3 805.0,1168.7 806.1,1164.3 806.2,1204.0 806.6,1150.0 807.2,1166.6 808.3,1177.6 809.4,1164.6 810.0,1172.5 810.4,1155.0 810.5,1162.6 811.6,1163.7 812.7,1161.8 813.7,1151.0 813.8,1159.1 814.1,1167.5 814.9,1158.7 816.0,1162.1 817.1,1156.0 817.5,1167.5 817.9,1154.0 818.2,1162.8 819.3,1160.8 820.4,1154.4 821.5,1159.2 822.5,1142.5 822.6,1153.1 822.9,1160.0 823.7,1151.5 824.8,1154.0 825.9,1151.2 826.2,1164.0 826.6,1145.0 827.0,1159.7 828.1,1156.4 829.2,1150.6 830.3,1161.0 831.2,1167.5 831.4,1157.0 831.6,1150.0 832.5,1162.1 833.6,1153.9 834.7,1168.1 835.0,1147.5 835.4,1174.0 835.8,1160.5 836.9,1156.9 838.0,1164.9 839.1,1161.7 840.0,1165.0 840.2,1152.2 840.4,1144.0 841.3,1145.9 842.4,1166.1 843.5,1145.5 844.4,1184.0 844.6,1151.7 844.8,1132.5 845.7,1146.7 846.8,1157.7 847.5,1145.0 847.9,1162.7 847.9,1166.0 849.0,1171.1 850.1,1176.4 850.6,1145.0 851.0,1191.0 851.2,1165.2 852.3,1162.2 853.4,1150.9 854.5,1149.2 855.0,1166.0 855.4,1146.0 855.6,1160.7 856.7,1157.9 857.8,1160.0 858.9,1158.7 860.0,1157.1 860.0,1175.0 860.4,1151.0 861.1,1167.1 862.2,1159.6 863.3,1181.4 863.7,1155.0 864.1,1190.0 864.4,1159.2 865.5,1168.3 866.6,1161.8 867.5,1176.0 867.7,1162.2 867.9,1154.0 868.8,1167.6 869.9,1158.0 871.0,1153.9 871.2,1170.0 871.6,1149.0 872.1,1180.4 872.5,1167.5 872.9,1190.0 873.2,1194.3 874.3,1196.1 875.0,1220.0 875.4,1195.0 875.4,1184.0 876.5,1202.9 877.5,1185.0 877.6,1202.2 877.9,1207.5 878.7,1192.3 879.8,1203.6 880.9,1203.2 881.2,1187.5 881.6,1217.5 882.0,1196.4 883.1,1200.0 884.2,1190.1 885.0,1205.0 885.3,1193.1 885.4,1185.0 886.4,1212.1 887.5,1219.6 888.0,1190.0 888.4,1229.0 888.6,1216.6 889.7,1186.8 890.8,1192.8 891.9,1197.6 892.5,1166.0 892.9,1202.5 893.0,1190.5 894.1,1183.8 895.0,1225.0 895.2,1203.1 895.4,1182.5 896.3,1185.9 897.4,1164.8 898.0,1150.0 898.4,1175.0 898.5,1167.5 899.6,1141.1 900.7,1132.7 901.2,1160.0 901.6,1121.0 901.8,1151.2 902.9,1170.7 904.0,1145.6 905.1,1166.5 905.6,1125.0 906.0,1212.5 906.2,1156.9 907.3,1169.6 908.4,1164.4 908.7,1150.0 909.1,1180.0 909.5,1170.3 910.6,1169.5 911.7,1156.1 912.8,1160.3 913.7,1160.0 913.9,1148.2 914.1,1145.0 915.0,1160.9 916.1,1159.5 917.2,1171.3 917.5,1194.0 917.9,1155.0 918.3,1171.3 919.4,1162.4 919.4,1140.0 919.8,1166.0 920.5,1138.1 921.6,1152.1 922.5,1160.0 922.7,1131.1 922.9,1121.0 923.7,1155.0 923.8,1107.6 924.1,1094.0 924.9,1167.0 925.6,1135.0 926.0,1161.7 926.0,1190.0 927.1,1141.9 928.2,1161.4 929.3,1146.5 930.0,1167.5 930.4,1142.7 930.4,1130.0 931.5,1174.1 932.6,1177.8 933.0,1127.5 933.4,1210.0 933.7,1169.5 934.8,1195.9 935.6,1170.0 935.9,1212.9 936.0,1235.0 937.0,1159.4 938.0,1136.0 938.1,1160.2 938.4,1170.0" fill="none" stroke="#000" stroke-width="2.8" stroke-linejoin="bevel" />
<polyline points="987.3,1145.6 987.7,1167.5 987.8,1154.1 988.9,1146.2 989.5,1118.0 989.9,1161.7 990.0,1155.0 991.1,1157.2 991.7,1131.0 992.1,1170.4 992.2,1146.6 993.4,1142.4 994.5,1133.6 994.6,1107.7 995.0,1160.0 995.6,1130.1 996.7,1156.4 996.8,1135.4 997.2,1176.0 997.8,1154.9 998.9,1166.3 999.7,1134.0 1000.0,1153.9 1000.1,1170.4 1001.1,1154.0 1002.2,1160.4 1002.6,1177.7 1003.0,1144.0 1003.3,1161.0 1004.4,1158.5 1005.5,1146.2 1006.2,1167.5 1006.6,1154.3 1006.6,1141.0 1007.7,1145.9 1008.8,1152.6 1009.9,1153.1 1010.6,1167.5 1011.0,1153.7 1011.0,1147.0 1012.1,1153.4 1013.2,1147.8 1014.3,1143.9 1014.3,1157.3 1014.7,1138.3 1015.4,1159.1 1016.5,1158.0 1017.6,1168.6 1018.0,1153.0 1018.4,1180.6 1018.7,1157.8 1019.4,1167.5 1019.8,1149.8 1019.8,1140.0 1020.9,1172.3 1022.0,1170.1 1022.3,1151.5 1022.7,1185.0 1023.1,1175.8 1024.2,1214.3 1024.5,1167.5 1024.9,1233.0 1025.3,1181.0 1026.4,1198.7 1027.5,1184.5 1028.0,1156.0 1028.4,1188.0 1028.6,1180.4 1029.7,1160.9 1030.8,1177.0 1031.8,1157.3 1031.9,1174.2 1032.2,1182.0 1033.0,1164.2 1034.0,1180.9 1034.7,1193.7 1035.1,1151.5 1035.1,1166.9 1036.2,1176.5 1037.3,1166.1 1038.3,1135.4 1038.4,1163.0 1038.7,1167.5 1039.5,1168.8 1039.8,1208.3 1040.2,1158.7 1040.6,1166.3 1041.7,1167.0 1042.8,1169.0 1043.4,1156.0 1043.8,1173.3 1043.9,1172.8 1045.0,1171.0 1046.1,1194.8 1046.3,1217.0 1046.7,1173.3 1047.2,1211.0 1048.3,1194.9 1049.3,1174.8 1049.4,1209.1 1049.7,1218.5 1050.5,1193.5 1051.6,1207.1 1052.7,1217.6 1053.0,1208.3 1053.4,1220.0 1053.8,1215.8 1054.9,1220.7 1055.0,1202.5 1055.4,1225.8 1056.0,1227.1 1057.1,1225.1 1057.3,1211.0 1057.7,1240.4 1058.2,1236.6 1059.3,1238.4 1060.2,1262.3 1060.4,1250.7 1060.6,1240.4 1061.5,1251.1 1062.4,1218.5 1062.6,1246.0 1062.8,1262.3 1063.7,1233.1 1064.6,1233.0 1064.8,1219.1 1065.0,1211.0 1065.9,1209.5 1067.0,1207.5 1067.5,1225.8 1067.9,1199.6 1068.1,1204.0 1069.2,1219.1 1070.3,1208.7 1070.4,1223.0 1070.8,1205.4 1071.4,1213.6 1072.5,1201.2 1073.3,1211.0 1073.6,1192.4 1073.7,1186.4 1074.7,1198.6 1075.8,1200.1 1076.2,1193.7 1076.6,1205.4 1076.9,1199.9 1078.0,1205.0 1079.1,1206.8 1079.2,1182.0 1079.6,1217.0 1080.2,1197.9 1081.3,1231.6 1081.3,1199.9 1081.7,1196.6 1082.4,1164.6 1082.8,1196.6 1083.2,1135.4 1083.5,1174.7 1084.6,1202.0 1085.0,1170.4 1085.4,1209.8 1085.7,1173.7 1086.8,1176.6 1087.9,1169.8 1088.0,1147.0 1088.4,1185.0 1089.0,1162.6 1090.1,1176.4 1091.2,1179.8 1091.5,1147.4 1091.9,1185.5 1092.3,1164.4 1093.4,1175.7 1094.5,1174.7 1094.6,1146.0 1095.0,1181.0 1095.6,1175.6 1096.7,1153.0 1097.8,1187.8 1098.4,1149.0 1098.8,1197.7 1098.9,1178.0 1100.0,1149.0 1100.7,1167.0 1101.1,1124.5 1101.1,1127.5 1102.2,1206.8 1102.2,1155.4 1102.6,1097.0 1103.3,1175.0 1104.4,1140.8 1105.2,1182.4 1105.5,1144.7 1105.6,1138.2 1106.6,1149.7 1107.7,1156.6 1108.8,1155.6 1109.0,1188.5 1109.4,1149.0 1109.9,1168.9 1111.0,1159.5 1112.0,1173.3 1112.1,1155.6 1112.4,1150.4 1113.2,1171.2 1114.3,1189.2 1114.4,1144.3 1114.8,1202.3 1115.4,1142.8 1116.5,1137.5 1116.7,1216.0 1117.1,1104.7 1117.6,1186.4 1118.7,1196.3 1119.0,1117.0 1119.4,1213.0 1119.8,1163.8 1120.9,1196.4 1121.2,1123.0 1121.6,1260.0 1122.0,1159.7 1123.1,1154.0 1123.5,1185.5 1123.9,1136.7 1124.2,1164.5 1125.3,1154.3 1126.4,1144.7 1126.6,1228.0 1127.0,1121.5 1127.5,1170.6 1128.6,1174.9 1128.9,1110.8 1129.3,1213.0 1129.7,1168.6 1130.8,1129.8 1131.2,1242.0 1131.6,1110.8 1131.9,1202.1 1133.0,1164.3 1134.1,1174.7 1134.2,1135.2 1134.6,1182.4 1135.2,1168.7 1136.3,1156.2 1136.5,1217.5 1136.9,1139.8 1137.4,1183.4 1138.5,1146.5 1138.8,1124.5 1139.2,1161.0 1139.6,1149.1 1140.7,1171.8 1141.8,1130.6 1141.8,1174.3 1142.2,1197.7 1142.9,1141.9 1144.0,1172.1 1144.9,1120.0 1145.1,1194.3 1145.3,1205.3 1146.2,1137.7 1147.2,1202.3 1147.3,1150.5 1147.6,1123.0 1148.4,1130.2 1149.5,1066.6 1149.5,1130.3 1149.9,1147.4 1150.6,1123.0 1151.7,1203.8 1151.7,1167.3 1152.1,1145.9 1152.8,1171.1 1153.9,1180.2 1154.8,1144.3 1155.0,1175.8 1155.2,1179.4 1156.1,1167.8 1157.2,1177.7 1157.8,1129.0 1158.2,1222.0 1158.3,1198.5 1159.4,1148.3 1160.0,1179.4 1160.4,1139.8 1160.5,1153.8 1161.6,1170.7 1162.7,1165.4 1163.8,1189.8 1164.0,1142.8 1164.4,1219.0 1164.9,1144.3 1165.5,1136.7 1165.9,1159.6 1166.0,1157.2 1167.1,1160.0 1167.7,1142.8 1168.1,1210.0 1168.2,1183.2 1169.3,1177.5 1170.4,1172.9 1170.8,1129.0 1171.2,1179.4 1171.5,1159.0 1172.6,1141.1 1173.0,1197.7 1173.4,1126.0 1173.7,1146.7 1174.8,1169.3 1175.4,1139.8 1175.8,1188.5 1175.9,1165.6 1177.0,1151.3 1178.1,1176.2 1178.4,1136.7 1178.8,1225.0 1179.2,1135.4 1180.0,1167.0 1180.3,1130.8 1180.4,1101.6 1181.4,1159.1 1182.2,1144.3 1182.5,1167.6 1182.6,1196.2 1183.6,1149.9 1183.7,1167.0 1184.1,1145.9" fill="none" stroke="#000" stroke-width="2.8" stroke-linejoin="bevel" />
<polyline points="1200.3,1094.0 1200.7,1197.7 1200.8,1160.8 1201.9,1130.1 1203.0,1083.1 1203.4,1188.5 1203.8,1048.3 1204.1,1154.9 1205.2,1160.6 1205.7,1130.6 1206.1,1187.0 1206.3,1174.2 1207.4,1183.1 1208.0,1149.0 1208.4,1190.0 1208.5,1187.9 1209.6,1136.6 1210.2,1117.0 1210.6,1213.0 1210.7,1168.3 1211.8,1149.6 1212.9,1181.2 1213.3,1225.0 1213.7,1136.7 1214.0,1145.8 1214.8,1190.0 1215.1,1146.4 1215.2,1103.0 1216.2,1147.0 1217.0,1190.0 1217.3,1135.5 1217.4,1127.6 1218.4,1157.6 1219.4,1112.3 1219.5,1153.3 1219.8,1159.6 1220.6,1181.2 1221.7,1152.0 1221.7,1181.4 1222.1,1213.0 1222.8,1181.1 1223.9,1172.1 1224.0,1110.8 1224.4,1191.6 1225.0,1132.1 1226.1,1161.1 1227.0,1129.0 1227.2,1153.1 1227.4,1173.3 1228.3,1156.3 1229.4,1191.6 1230.0,1138.2 1230.4,1219.0 1230.5,1168.2 1231.6,1148.6 1232.7,1133.0 1233.0,1164.0 1233.4,1107.7 1233.8,1165.1 1234.9,1162.7 1235.4,1144.3 1235.8,1187.0 1236.0,1169.7 1237.1,1182.0 1237.7,1210.0 1238.1,1142.8 1238.2,1174.1 1239.3,1198.6 1240.0,1107.7 1240.4,1228.0 1240.4,1189.9 1241.5,1121.6 1242.3,1182.4 1242.6,1125.9 1242.7,1104.7 1243.7,1159.0 1244.8,1180.9 1245.3,1152.0 1245.7,1205.3 1245.9,1156.6 1247.0,1184.0 1248.1,1149.7 1249.0,1174.8 1249.2,1147.4 1249.4,1133.7 1250.3,1174.0 1251.4,1136.7 1251.4,1189.7 1251.8,1208.3 1252.5,1157.2 1253.6,1164.2 1254.5,1152.0 1254.7,1169.4 1254.9,1176.3 1255.8,1160.9 1256.7,1152.0 1256.9,1164.1 1257.1,1171.8 1258.0,1153.3 1259.0,1213.0 1259.1,1168.3 1259.4,1130.6 1260.2,1189.0 1261.3,1175.1 1262.0,1136.7 1262.4,1185.5 1262.4,1163.8 1263.5,1171.3 1264.4,1222.0 1264.6,1157.0 1264.8,1147.4 1265.7,1175.3 1266.8,1142.4 1267.9,1141.2 1268.2,1174.8 1268.6,1129.0 1269.0,1176.7 1270.1,1147.3 1271.2,1142.8 1271.2,1195.5 1271.6,1203.8 1272.3,1159.0 1273.4,1173.5 1274.3,1150.4 1274.5,1173.6 1274.7,1185.5 1275.6,1157.0 1276.7,1169.4 1277.3,1155.0 1277.7,1182.4 1277.8,1175.0 1278.9,1155.3 1280.0,1160.9 1280.4,1190.0 1280.8,1138.2 1281.1,1171.5 1282.2,1161.7 1283.3,1142.2 1283.4,1184.0 1283.8,1135.2 1284.4,1177.2 1285.5,1165.5 1286.5,1200.7 1286.6,1171.1 1286.9,1147.4 1287.7,1145.9 1288.8,1172.6 1289.5,1115.4 1289.9,1219.0 1289.9,1197.4 1291.0,1137.7 1292.1,1155.1 1292.6,1213.0 1293.0,1116.6 1293.2,1162.2 1294.0,1132.4 1294.3,1174.5 1294.4,1179.7 1295.4,1182.4 1296.3,1242.8 1296.5,1198.2 1296.7,1175.0 1297.6,1263.0 1298.5,1242.8 1298.7,1278.4 1298.9,1310.4 1299.8,1280.2 1300.8,1328.4 1300.9,1300.4 1301.2,1287.9 1302.0,1292.6 1303.0,1287.9 1303.1,1251.7 1303.4,1238.3 1304.2,1302.7 1305.3,1297.9 1306.4,1364.5 1306.4,1334.4 1306.8,1310.4 1307.5,1335.2 1308.6,1338.8 1309.7,1332.2 1309.8,1364.0 1310.2,1321.7 1310.8,1326.7 1311.9,1311.2 1312.0,1287.9 1312.4,1333.0 1313.0,1287.5 1314.1,1279.1 1314.3,1299.0 1314.7,1254.0 1315.2,1268.0 1316.3,1275.0 1317.4,1279.0 1317.7,1258.6 1318.1,1287.9 1318.5,1269.6 1319.6,1277.1 1320.7,1267.8 1321.0,1256.3 1321.4,1278.8 1321.8,1257.2 1322.9,1257.8 1324.0,1246.3 1324.4,1231.5 1324.8,1251.8 1325.1,1239.2 1326.2,1242.3 1327.3,1246.5 1327.8,1227.0 1328.2,1249.5 1328.4,1241.6 1329.5,1227.1 1330.6,1231.6 1331.7,1226.5 1332.3,1204.5 1332.7,1242.8 1332.8,1221.5 1333.9,1211.2 1335.0,1209.6 1336.1,1202.6 1336.8,1215.8 1337.2,1186.5 1337.2,1189.1 1338.3,1195.5 1339.4,1190.9 1340.2,1170.7 1340.5,1195.9 1340.6,1206.7 1341.6,1168.0 1342.7,1170.9 1343.6,1152.7 1343.8,1170.5 1344.0,1175.2 1344.9,1146.9 1346.0,1158.9 1347.0,1121.0 1347.1,1149.3 1347.4,1175.2 1348.2,1153.7 1349.3,1159.6 1350.3,1137.0 1350.4,1174.2 1350.7,1182.0 1351.5,1165.1 1352.6,1165.3 1353.7,1154.4 1354.8,1166.2 1354.8,1157.2 1355.2,1150.4 1355.9,1160.2 1357.0,1160.6 1358.1,1163.6 1359.2,1164.1 1359.4,1152.7 1359.8,1173.0 1360.3,1161.9 1361.4,1167.4 1362.5,1148.6 1363.6,1148.0 1363.9,1170.7 1364.3,1139.1 1364.7,1159.9 1365.8,1165.2 1366.9,1158.4 1367.2,1150.4 1367.6,1168.4 1368.0,1157.9 1369.1,1164.6 1370.2,1165.2 1370.6,1195.5 1371.0,1139.1 1371.3,1153.6 1372.4,1168.9 1373.5,1166.0 1374.0,1155.0 1374.4,1170.7" fill="none" stroke="#000" stroke-width="2.8" stroke-linejoin="bevel" />
<polyline points="1390.8,1108.5 1391.2,1152.2 1391.3,1127.9 1392.4,1121.6 1393.0,1088.0 1393.4,1133.3 1393.5,1138.7 1394.6,1138.9 1395.2,1143.5 1395.6,1184.3 1395.7,1173.6 1396.8,1167.8 1397.9,1164.0 1398.1,1143.5 1398.5,1168.3 1399.0,1164.7 1400.1,1199.0 1401.0,1164.0 1401.2,1200.6 1401.4,1225.0 1402.3,1161.6 1403.2,1181.4 1403.4,1143.9 1403.6,1108.5 1404.5,1148.7 1405.4,1177.0 1405.6,1152.8 1405.8,1127.5 1406.7,1162.2 1407.8,1151.0 1408.3,1134.8 1408.7,1168.3 1408.9,1161.8 1410.0,1147.0 1411.1,1180.4 1412.0,1200.3 1412.2,1145.7 1412.4,1133.3 1413.3,1162.3 1414.2,1118.7 1414.4,1159.2 1414.6,1185.8 1415.5,1149.1 1416.6,1152.4 1417.7,1180.5 1417.8,1104.0 1418.2,1203.3 1418.8,1141.5 1419.9,1198.4 1420.7,1225.0 1421.0,1144.2 1421.1,1120.0 1422.1,1193.2 1422.9,1111.4 1423.2,1188.8 1423.3,1200.3 1424.3,1155.5 1425.0,1149.3 1425.4,1213.5 1425.4,1191.3 1426.5,1161.1 1427.3,1130.4 1427.6,1169.1 1427.7,1199.0 1428.7,1117.9 1429.5,1080.8 1429.8,1136.7 1429.9,1149.3 1430.9,1117.4 1431.6,1182.9 1432.0,1104.0 1432.0,1145.9 1433.1,1147.4 1434.2,1131.2 1434.6,1171.2 1435.0,1127.5 1435.3,1156.4 1436.4,1143.5 1437.5,1172.7 1437.5,1146.7 1437.9,1133.3 1438.6,1153.2 1439.7,1161.1 1440.4,1130.4 1440.8,1188.7 1440.8,1176.6 1441.9,1152.8 1443.0,1161.8 1443.3,1104.0 1443.7,1193.0 1444.1,1140.0 1445.2,1121.0 1446.2,1184.3 1446.3,1122.7 1446.6,1104.0 1447.4,1138.6 1448.4,1061.9 1448.5,1149.5 1448.8,1191.6 1449.6,1082.3 1450.7,1136.3 1451.3,1213.5 1451.7,1048.7 1451.8,1131.3 1452.9,1183.5 1453.5,1124.5 1453.9,1193.0 1454.0,1186.0 1455.1,1189.5 1456.2,1172.1 1456.4,1238.3 1456.8,1157.2 1457.3,1203.6 1458.4,1204.5 1459.5,1202.2 1459.5,1167.7 1459.9,1150.4 1460.6,1170.0 1461.7,1207.2 1462.8,1206.3 1463.9,1204.1 1464.0,1123.4 1464.4,1265.3 1465.0,1183.2 1466.1,1240.3 1467.2,1235.4 1467.4,1197.7 1467.8,1283.4 1468.3,1247.9 1469.4,1247.5 1469.6,1315.0 1470.0,1231.5 1470.5,1267.8 1471.6,1248.3 1471.9,1159.4 1472.3,1276.6 1472.7,1221.4 1473.8,1204.6 1474.9,1201.8 1475.3,1265.3 1475.7,1155.0 1476.0,1248.0 1477.1,1283.8 1477.5,1351.0 1477.9,1242.8 1478.2,1333.3 1479.3,1263.7 1480.4,1291.8 1480.9,1337.4 1481.3,1254.0 1481.5,1286.1 1482.6,1244.9 1483.7,1192.2 1484.3,1351.0 1484.7,1114.4 1484.8,1165.1 1485.9,1215.4 1487.0,1178.7 1487.7,1242.8 1488.1,1130.0 1488.1,1153.4 1489.2,1186.8 1490.3,1168.9 1491.0,1220.3 1491.4,1155.0 1491.4,1177.1 1492.5,1234.2 1493.6,1262.2 1494.4,1310.4 1494.7,1255.1 1494.8,1220.3 1495.8,1312.3 1496.9,1281.6 1497.8,1380.0 1498.0,1315.6 1498.2,1276.6 1499.1,1286.2 1500.2,1306.6 1501.2,1224.8 1501.3,1305.3 1501.6,1330.7 1502.4,1257.5 1503.5,1284.7 1504.6,1346.4 1504.6,1303.9 1505.0,1265.3 1505.7,1315.7 1506.8,1309.2 1507.9,1297.7 1508.0,1342.0 1508.4,1278.8 1509.0,1310.4 1510.1,1287.0 1511.2,1280.0 1511.3,1265.3 1511.7,1292.4 1512.3,1281.6 1513.4,1292.7 1514.5,1293.2 1514.7,1272.0 1515.1,1308.0 1515.6,1292.4 1516.7,1258.3 1517.8,1268.2 1518.0,1303.6 1518.4,1231.5 1518.9,1235.5 1520.0,1248.9 1520.3,1321.7 1520.7,1213.5 1521.1,1264.1 1522.2,1243.0 1523.3,1246.3 1523.7,1157.2 1524.1,1254.0 1524.4,1203.4 1525.5,1248.1 1526.6,1276.0 1527.0,1238.3 1527.4,1292.4 1527.7,1217.9 1528.8,1205.6 1529.4,1238.3 1529.8,1103.0 1529.9,1146.1 1531.0,1195.5 1531.6,1299.1 1532.0,1049.0 1532.1,1097.6 1533.2,1189.8 1534.0,1040.0 1534.3,1205.5 1534.4,1380.0" fill="none" stroke="#000" stroke-width="2.8" stroke-linejoin="bevel" />
<polyline points="128.3,575.0 352.4,615.0" fill="none" stroke="#00f86c" stroke-width="2.6" stroke-linejoin="bevel" stroke-dasharray="15.2 15.3"/>
<polyline points="372.5,670.6 537.3,697.0 552.6,699.8 748.8,728.7 764.5,731.0 970.0,759.8" fill="none" stroke="#00f86c" stroke-width="2.6" stroke-linejoin="bevel" stroke-dasharray="15.2 15.3"/>
<polyline points="987.2,780.4 1182.0,804.7" fill="none" stroke="#00f86c" stroke-width="2.6" stroke-linejoin="bevel" stroke-dasharray="15.2 15.3"/>
<polyline points="1200.7,869.8 1365.3,884.0" fill="none" stroke="#00f86c" stroke-width="2.6" stroke-linejoin="bevel" stroke-dasharray="15.2 15.3"/>
<polyline points="1391.5,858.7 1530.0,858.7" fill="none" stroke="#00f86c" stroke-width="2.6" stroke-linejoin="bevel" stroke-dasharray="15.2 15.3"/>
<polyline points="147.6,491.5 151.7,517.5 156.6,507.7 164.0,512.6 166.0,514.0 170.0,545.0 176.0,488.0 180.0,519.0 182.6,506.0 186.6,527.0 190.0,509.0 194.7,526.4 204.5,520.7 211.0,517.5 214.0,525.6 220.7,520.7 225.6,517.5 233.7,514.0 237.0,503.0 240.0,512.6 243.5,501.0 248.4,512.6 253.0,512.6 258.0,538.6 263.0,525.6 268.0,537.0 273.6,514.0 277.0,550.0 281.7,507.7 285.0,530.5 289.0,501.0 294.0,524.0 300.0,537.0 306.0,504.5 313.0,530.5 317.4,522.4 320.7,532.0 325.6,519.0 329.6,525.6 336.0,545.0 341.0,542.0 346.0,538.6 350.0,561.0 354.0,529.0 356.4,530.5" fill="none" stroke="#00f86c" stroke-width="2.6" stroke-linejoin="bevel" />
<polyline points="372.5,626.0 375.0,629.0 381.6,621.0 386.5,629.0 391.5,624.0 398.0,626.0 404.8,634.0 411.4,626.0 418.0,619.0 421.3,629.0 426.3,604.0 429.6,563.0 433.8,503.0 438.0,561.0 441.2,622.5 449.5,629.0 456.0,599.0 460.3,629.0 466.0,641.0 471.0,632.4 476.0,642.4 481.0,634.0 487.6,647.4 492.6,649.0 497.6,624.0 502.5,629.0 508.3,599.0 512.5,622.5 515.8,617.5 520.0,627.5 526.6,559.5 530.7,574.5 534.0,566.0 539.0,587.7 543.0,599.0 546.4,631.0 549.8,619.0 554.0,652.0 559.0,674.0 563.0,661.0 569.7,645.0 573.6,628.0 577.6,637.4 580.2,638.8 582.8,650.6 587.4,625.6 592.0,654.5 597.2,623.0 602.5,654.5 606.4,633.5 610.4,591.5 614.3,621.7 617.0,646.6 621.0,646.6 623.5,652.0 627.4,649.0 631.4,653.0 636.6,654.5 640.6,645.3 644.5,649.0 649.8,640.0 653.7,642.7 657.6,649.0 661.6,644.0 665.5,641.4 668.0,649.0 673.4,619.0 677.3,636.0 681.2,633.5 685.2,621.7 691.7,636.0 695.7,619.0 699.6,631.0 707.5,615.0 712.8,641.4 718.0,640.0 720.6,646.6 725.9,649.0 731.0,637.4 735.0,641.4 739.0,645.3 743.0,646.6 748.2,638.8 753.4,644.0 759.8,641.8 764.5,641.8 769.3,641.8 773.3,654.5 779.0,651.4 783.6,643.4 790.0,641.8 794.8,632.3 801.0,638.6 806.0,632.3 810.7,638.6 815.5,633.9 821.8,638.6 828.0,621.0 833.0,626.0 837.7,624.3 842.5,618.0 847.3,619.5 853.6,606.8 863.2,597.3 868.0,591.0 871.0,573.4 874.3,594.0 877.5,603.6 882.3,608.4 888.6,622.7 893.4,630.7 898.2,648.2 904.5,651.4 909.3,654.5 914.0,649.8 918.9,670.4 922.0,664.0 926.8,664.0 931.6,670.4 938.0,678.4" fill="none" stroke="#00f86c" stroke-width="2.6" stroke-linejoin="bevel" />
<polyline points="987.2,718.0 991.0,724.5 995.0,718.0 999.0,711.8 1002.3,688.0 1004.7,713.4 1007.8,691.0 1011.8,702.0 1015.0,686.4 1021.4,680.0 1025.3,645.0 1027.7,676.8 1031.0,653.0 1035.7,646.6 1040.5,635.5 1044.4,619.5 1047.6,583.0 1050.8,602.0 1054.0,616.4 1057.2,638.6 1059.5,630.7 1063.5,649.8 1067.5,645.0 1070.7,651.4 1075.5,661.0 1079.4,665.7 1082.6,680.0 1086.6,667.3 1089.8,665.7 1093.0,675.0 1096.0,638.6 1099.6,565.8 1102.2,520.7 1104.9,552.5 1108.9,632.0 1111.5,661.0 1115.5,653.0 1118.0,640.0 1122.0,499.5 1124.8,420.0 1127.5,260.0 1130.0,184.0 1132.5,260.0 1134.0,420.0 1138.0,579.0 1142.0,658.5 1146.0,703.6 1150.0,666.5 1154.0,711.5 1160.5,698.0 1164.5,711.5 1168.5,706.0 1172.5,735.4 1176.4,732.7 1180.4,716.8 1183.0,738.0" fill="none" stroke="#00f86c" stroke-width="2.6" stroke-linejoin="bevel" />
<polyline points="1200.7,755.3 1206.0,714.0 1211.5,689.0 1220.4,667.7 1225.8,646.0 1231.0,646.0 1238.3,624.8 1243.7,589.0 1249.0,553.0 1254.4,517.4 1261.6,496.0 1268.7,488.8 1275.9,474.5 1281.2,449.4 1290.3,399.8 1296.9,379.9 1303.6,447.5 1310.2,487.3 1314.8,516.0 1316.8,531.8 1318.8,537.0 1321.5,539.0 1323.5,545.8 1325.1,551.0 1328.3,551.1 1330.7,557.7 1336.7,593.4 1344.7,625.3 1350.0,654.4 1354.0,654.4 1361.9,659.7 1365.9,678.3 1373.9,736.7" fill="none" stroke="#00f86c" stroke-width="2.6" stroke-linejoin="bevel" />
<polyline points="1390.0,854.6 1393.2,860.8 1397.3,856.7 1401.4,860.8 1405.5,860.8 1410.7,854.6 1415.8,850.5 1422.0,844.3 1427.0,850.5 1431.2,838.2 1437.4,825.9 1441.5,832.0 1446.6,828.0 1452.8,821.7 1456.0,825.9 1460.0,817.6 1467.2,815.6 1471.3,809.4 1475.4,811.5 1479.5,797.0 1483.6,786.8 1487.7,766.3 1490.8,737.5 1495.0,718.0 1499.0,741.6 1503.0,778.6 1508.3,788.9 1513.4,811.5 1518.5,803.3 1522.6,809.4 1526.7,844.3 1528.8,846.4 1533.0,838.2 1535.0,844.3" fill="none" stroke="#00f86c" stroke-width="2.6" stroke-linejoin="bevel" />
<polyline points="128.3,1161.7 303.2,1161.7 308.5,1172.0 310.0,1167.5 316.0,1176.5 320.5,1170.5 325.0,1169.0 329.5,1166.0 334.0,1164.5 340.0,1160.8 343.0,1164.5 346.0,1161.5 356.5,1161.7" fill="none" stroke="#00dcfa" stroke-width="2.6" stroke-linejoin="bevel" />
<polyline points="373.0,1161.7 555.5,1161.7 560.0,1185.0 561.5,1200.0 564.5,1185.0 568.2,1209.0 572.0,1186.5 575.0,1194.0 581.0,1179.0 587.0,1170.0 590.0,1179.0 593.0,1162.5 597.5,1161.7 615.6,1161.9 621.0,1170.0 627.0,1179.0 630.0,1170.0 633.7,1172.5 640.0,1167.5 645.0,1164.0 650.0,1160.0 652.5,1165.0 654.4,1162.0 709.4,1161.9 712.5,1175.0 715.0,1185.0 716.2,1175.0 720.0,1188.7 725.0,1175.0 727.5,1180.0 730.0,1172.5 735.0,1167.5 738.7,1165.0 742.0,1167.5 745.0,1161.2 747.5,1166.0 749.4,1162.0 870.0,1161.9 874.4,1206.0 876.9,1190.0 881.9,1212.5 886.2,1191.0 888.7,1200.0 892.5,1189.0 897.5,1175.0 900.0,1169.0 902.5,1181.0 905.6,1162.5 908.0,1177.5 911.2,1162.0 970.6,1161.9" fill="none" stroke="#00dcfa" stroke-width="2.6" stroke-linejoin="bevel" />
<polyline points="987.0,1162.1 1048.5,1162.1 1050.0,1170.4 1051.5,1206.9 1053.6,1263.7 1055.8,1221.4 1058.7,1269.6 1061.7,1241.9 1064.6,1225.8 1067.5,1244.8 1071.1,1220.0 1074.0,1195.2 1077.0,1211.2 1079.2,1179.2 1081.3,1206.9 1083.5,1161.7 1085.7,1173.3 1088.0,1209.8 1089.4,1161.7 1183.7,1161.9" fill="none" stroke="#00dcfa" stroke-width="2.6" stroke-linejoin="bevel" />
<polyline points="1200.0,1161.8 1296.3,1161.7 1298.5,1265.3 1299.6,1310.4 1303.0,1278.8 1306.4,1344.2 1309.8,1294.6 1313.2,1258.6 1316.5,1287.9 1321.0,1267.6 1324.4,1238.3 1327.8,1249.5 1330.0,1220.3 1332.3,1166.2 1334.6,1240.5 1338.0,1162.8 1374.0,1161.7" fill="none" stroke="#00dcfa" stroke-width="2.6" stroke-linejoin="bevel" />
<polyline points="1390.0,1161.7 1465.2,1161.6 1466.7,1183.7 1468.1,1227.5 1468.8,1240.6 1470.3,1227.5 1472.5,1195.4 1474.7,1212.9 1476.9,1263.9 1478.3,1280.0 1480.5,1271.2 1484.2,1227.5 1486.3,1198.3 1489.3,1177.9 1491.4,1175.0 1492.9,1161.9 1494.4,1161.9 1495.1,1242.0 1496.5,1326.6 1498.7,1300.4 1500.9,1278.5 1503.1,1293.0 1504.6,1344.0 1506.7,1315.0 1509.0,1253.7 1511.1,1293.0 1513.3,1274.1 1515.5,1294.5 1517.7,1271.2 1520.6,1274.1 1523.5,1242.0 1526.4,1239.1 1527.9,1169.2 1530.1,1164.8 1532.3,1198.3 1533.9,1290.0 1534.9,1332.4 1535.6,1191.0" fill="none" stroke="#00dcfa" stroke-width="2.6" stroke-linejoin="bevel" />
<line x1="1493.6" y1="37.9" x2="1493.6" y2="1387" stroke="#fff" stroke-width="4.2"/>
<line x1="1493.6" y1="37.9" x2="1493.6" y2="1049" stroke="#0010ff" stroke-width="3.5" stroke-dasharray="15.6 7.45 3.8 7.45"/>
<line x1="1493.6" y1="1388.3" x2="1493.6" y2="1049" stroke="#0010ff" stroke-width="3.5" stroke-dasharray="15.6 7.45 3.8 7.45"/>
<line x1="127.10000000000001" y1="29.4" x2="357.0" y2="29.4" stroke="#000" stroke-width="2.5"/>
<line x1="373.0" y1="29.4" x2="970.75" y2="29.4" stroke="#000" stroke-width="2.5"/>
<line x1="987.25" y1="29.4" x2="1183.8" y2="29.4" stroke="#000" stroke-width="2.5"/>
<line x1="1200.4" y1="29.4" x2="1374.25" y2="29.4" stroke="#000" stroke-width="2.5"/>
<line x1="1390.75" y1="29.4" x2="1538.5" y2="29.4" stroke="#000" stroke-width="2.5"/>
<line x1="349.0" y1="41.099999999999994" x2="364.68" y2="17.7" stroke="#000" stroke-width="2.4"/>
<line x1="365.32" y1="41.099999999999994" x2="381.0" y2="17.7" stroke="#000" stroke-width="2.4"/>
<line x1="962.5" y1="41.099999999999994" x2="978.67" y2="17.7" stroke="#000" stroke-width="2.4"/>
<line x1="979.33" y1="41.099999999999994" x2="995.5" y2="17.7" stroke="#000" stroke-width="2.4"/>
<line x1="1175.5" y1="41.099999999999994" x2="1191.768" y2="17.7" stroke="#000" stroke-width="2.4"/>
<line x1="1192.432" y1="41.099999999999994" x2="1208.7" y2="17.7" stroke="#000" stroke-width="2.4"/>
<line x1="1366.0" y1="41.099999999999994" x2="1382.17" y2="17.7" stroke="#000" stroke-width="2.4"/>
<line x1="1382.83" y1="41.099999999999994" x2="1399.0" y2="17.7" stroke="#000" stroke-width="2.4"/>
<line x1="127.10000000000001" y1="1388.0" x2="357.0" y2="1388.0" stroke="#000" stroke-width="2.5"/>
<line x1="373.0" y1="1388.0" x2="970.75" y2="1388.0" stroke="#000" stroke-width="2.5"/>
<line x1="987.25" y1="1388.0" x2="1183.8" y2="1388.0" stroke="#000" stroke-width="2.5"/>
<line x1="1200.4" y1="1388.0" x2="1374.25" y2="1388.0" stroke="#000" stroke-width="2.5"/>
<line x1="1390.75" y1="1388.0" x2="1538.5" y2="1388.0" stroke="#000" stroke-width="2.5"/>
<line x1="349.0" y1="1399.7" x2="364.68" y2="1376.3" stroke="#000" stroke-width="2.4"/>
<line x1="365.32" y1="1399.7" x2="381.0" y2="1376.3" stroke="#000" stroke-width="2.4"/>
<line x1="962.5" y1="1399.7" x2="978.67" y2="1376.3" stroke="#000" stroke-width="2.4"/>
<line x1="979.33" y1="1399.7" x2="995.5" y2="1376.3" stroke="#000" stroke-width="2.4"/>
<line x1="1175.5" y1="1399.7" x2="1191.768" y2="1376.3" stroke="#000" stroke-width="2.4"/>
<line x1="1192.432" y1="1399.7" x2="1208.7" y2="1376.3" stroke="#000" stroke-width="2.4"/>
<line x1="1366.0" y1="1399.7" x2="1382.17" y2="1376.3" stroke="#000" stroke-width="2.4"/>
<line x1="1382.83" y1="1399.7" x2="1399.0" y2="1376.3" stroke="#000" stroke-width="2.4"/>
<line x1="128.3" y1="28.2" x2="128.3" y2="1389.2" stroke="#000" stroke-width="2.5"/>
<line x1="1537.3" y1="28.2" x2="1537.3" y2="1389.2" stroke="#000" stroke-width="2.5"/>
<line x1="128.3" y1="1047.8" x2="132.70000000000002" y2="1047.8" stroke="#000" stroke-width="2"/>
<line x1="128.3" y1="996.9" x2="130.70000000000002" y2="996.9" stroke="#000" stroke-width="2"/>
<line x1="128.3" y1="946.0" x2="130.70000000000002" y2="946.0" stroke="#000" stroke-width="2"/>
<line x1="128.3" y1="895.0" x2="130.70000000000002" y2="895.0" stroke="#000" stroke-width="2"/>
<line x1="128.3" y1="844.1" x2="130.70000000000002" y2="844.1" stroke="#000" stroke-width="2"/>
<line x1="128.3" y1="793.2" x2="132.70000000000002" y2="793.2" stroke="#000" stroke-width="2"/>
<line x1="128.3" y1="742.3" x2="130.70000000000002" y2="742.3" stroke="#000" stroke-width="2"/>
<line x1="128.3" y1="691.4" x2="130.70000000000002" y2="691.4" stroke="#000" stroke-width="2"/>
<line x1="128.3" y1="640.4" x2="130.70000000000002" y2="640.4" stroke="#000" stroke-width="2"/>
<line x1="128.3" y1="589.5" x2="130.70000000000002" y2="589.5" stroke="#000" stroke-width="2"/>
<line x1="128.3" y1="538.6" x2="132.70000000000002" y2="538.6" stroke="#000" stroke-width="2"/>
<line x1="128.3" y1="487.7" x2="130.70000000000002" y2="487.7" stroke="#000" stroke-width="2"/>
<line x1="128.3" y1="436.8" x2="130.70000000000002" y2="436.8" stroke="#000" stroke-width="2"/>
<line x1="128.3" y1="385.8" x2="130.70000000000002" y2="385.8" stroke="#000" stroke-width="2"/>
<line x1="128.3" y1="334.9" x2="130.70000000000002" y2="334.9" stroke="#000" stroke-width="2"/>
<line x1="128.3" y1="284.0" x2="132.70000000000002" y2="284.0" stroke="#000" stroke-width="2"/>
<line x1="128.3" y1="233.1" x2="130.70000000000002" y2="233.1" stroke="#000" stroke-width="2"/>
<line x1="128.3" y1="182.2" x2="130.70000000000002" y2="182.2" stroke="#000" stroke-width="2"/>
<line x1="128.3" y1="131.2" x2="130.70000000000002" y2="131.2" stroke="#000" stroke-width="2"/>
<line x1="128.3" y1="80.3" x2="130.70000000000002" y2="80.3" stroke="#000" stroke-width="2"/>
<line x1="313.0" y1="1388.0" x2="313.0" y2="1372.0" stroke="#000" stroke-width="2"/>
<line x1="487.5" y1="1388.0" x2="487.5" y2="1372.0" stroke="#000" stroke-width="2"/>
<line x1="634.25" y1="1388.0" x2="634.25" y2="1372.0" stroke="#000" stroke-width="2"/>
<line x1="773.75" y1="1388.0" x2="773.75" y2="1372.0" stroke="#000" stroke-width="2"/>
<line x1="906.75" y1="1388.0" x2="906.75" y2="1372.0" stroke="#000" stroke-width="2"/>
<line x1="1011.25" y1="1388.0" x2="1011.25" y2="1372.0" stroke="#000" stroke-width="2"/>
<line x1="1128.0" y1="1388.0" x2="1128.0" y2="1372.0" stroke="#000" stroke-width="2"/>
<line x1="1222.0" y1="1388.0" x2="1222.0" y2="1372.0" stroke="#000" stroke-width="2"/>
<line x1="1310.0" y1="1388.0" x2="1310.0" y2="1372.0" stroke="#000" stroke-width="2"/>
<line x1="1431.4" y1="1388.0" x2="1431.4" y2="1372.0" stroke="#000" stroke-width="2"/>
<text x="119" y="49.4" text-anchor="end" style="font-family:'Liberation Sans',sans-serif;font-size:31.5px">80</text>
<text x="119" y="295.7" text-anchor="end" style="font-family:'Liberation Sans',sans-serif;font-size:31.5px">60</text>
<text x="119" y="552.5" text-anchor="end" style="font-family:'Liberation Sans',sans-serif;font-size:31.5px">40</text>
<text x="119" y="809" text-anchor="end" style="font-family:'Liberation Sans',sans-serif;font-size:31.5px">20</text>
<text x="119" y="1049.3" text-anchor="end" style="font-family:'Liberation Sans',sans-serif;font-size:31.5px">0</text>
<text x="119" y="1172.8" text-anchor="end" style="font-family:'Liberation Sans',sans-serif;font-size:31.5px">1</text>
<text x="119" y="1389.4" text-anchor="end" style="font-family:'Liberation Sans',sans-serif;font-size:31.5px">0</text>
<text x="85" y="1429.3" style="font-family:'Liberation Sans',sans-serif;font-size:30px" textLength="86" lengthAdjust="spacingAndGlyphs">3000Å</text>
<text x="277.5" y="1429.3" style="font-family:'Liberation Sans',sans-serif;font-size:30px" textLength="69" lengthAdjust="spacingAndGlyphs">3200</text>
<text x="453" y="1429.3" style="font-family:'Liberation Sans',sans-serif;font-size:30px" textLength="69" lengthAdjust="spacingAndGlyphs">3800</text>
<text x="599.5" y="1429.3" style="font-family:'Liberation Sans',sans-serif;font-size:30px" textLength="69.5" lengthAdjust="spacingAndGlyphs">4000</text>
<text x="737.5" y="1429.3" style="font-family:'Liberation Sans',sans-serif;font-size:30px" textLength="70" lengthAdjust="spacingAndGlyphs">4200</text>
<text x="871" y="1429.3" style="font-family:'Liberation Sans',sans-serif;font-size:30px" textLength="70" lengthAdjust="spacingAndGlyphs">4400</text>
<text x="975.5" y="1429.3" style="font-family:'Liberation Sans',sans-serif;font-size:30px" textLength="70" lengthAdjust="spacingAndGlyphs">4800</text>
<text x="1092.5" y="1429.3" style="font-family:'Liberation Sans',sans-serif;font-size:30px" textLength="68" lengthAdjust="spacingAndGlyphs">5000</text>
<text x="1187.5" y="1429.3" style="font-family:'Liberation Sans',sans-serif;font-size:30px" textLength="68" lengthAdjust="spacingAndGlyphs">6400</text>
<text x="1267.5" y="1429.3" style="font-family:'Liberation Sans',sans-serif;font-size:30px" textLength="86.5" lengthAdjust="spacingAndGlyphs">6600Å</text>
<text x="1380" y="1429.3" style="font-family:'Liberation Sans',sans-serif;font-size:30px" textLength="105" lengthAdjust="spacingAndGlyphs">1.06<tspan style="font-family:'Liberation Serif',serif;font-style:italic">μ</tspan><tspan style="font-family:'Liberation Serif',serif">m</tspan></text>
<text x="1494" y="1429.3" style="font-family:'Liberation Sans',sans-serif;font-size:30px" textLength="87.5" lengthAdjust="spacingAndGlyphs">1.1<tspan style="font-family:'Liberation Serif',serif;font-style:italic">μ</tspan><tspan style="font-family:'Liberation Serif',serif">m</tspan></text>
<text x="799" y="1487.2" text-anchor="middle" style="font-family:'Liberation Sans',sans-serif;font-size:39.5px">λ</text>
<text transform="translate(326,279) rotate(-90)" style="font-family:'Liberation Serif',serif;font-weight:bold;font-size:32.5px" textLength="58.8" lengthAdjust="spacingAndGlyphs">HeI*</text>
<text transform="translate(326,201) rotate(-90)" style="font-family:'Liberation Serif',serif;font-weight:bold;font-size:32.5px" textLength="68.5" lengthAdjust="spacingAndGlyphs">3188</text>
<text transform="translate(457.5,281.5) rotate(-90)" style="font-family:'Liberation Serif',serif;font-weight:bold;font-size:32.5px" textLength="61.5" lengthAdjust="spacingAndGlyphs">[OII]</text>
<text transform="translate(457.5,201) rotate(-90)" style="font-family:'Liberation Serif',serif;font-weight:bold;font-size:32.5px" textLength="68.5" lengthAdjust="spacingAndGlyphs">3728</text>
<text transform="translate(550,279) rotate(-90)" style="font-family:'Liberation Serif',serif;font-weight:bold;font-size:32.5px" textLength="59" lengthAdjust="spacingAndGlyphs">HeI*</text>
<text transform="translate(550,201) rotate(-90)" style="font-family:'Liberation Serif',serif;font-weight:bold;font-size:32.5px" textLength="68.5" lengthAdjust="spacingAndGlyphs">3889</text>
<text transform="translate(578.5,164) rotate(-90)" style="font-family:'Liberation Serif',serif;font-weight:bold;font-size:32.5px" textLength="31.5" lengthAdjust="spacingAndGlyphs">H<tspan style="font-weight:normal;font-style:italic">ζ</tspan></text>
<text transform="translate(637.5,165) rotate(-90)" style="font-family:'Liberation Serif',serif;font-weight:bold;font-size:32.5px" textLength="30" lengthAdjust="spacingAndGlyphs">H<tspan style="font-weight:normal;font-style:normal">ϵ</tspan></text>
<text transform="translate(730,167) rotate(-90)" style="font-family:'Liberation Serif',serif;font-weight:bold;font-size:32.5px" textLength="32.6" lengthAdjust="spacingAndGlyphs">H<tspan style="font-weight:normal;font-style:italic">δ</tspan></text>
<text transform="translate(891.5,168) rotate(-90)" style="font-family:'Liberation Serif',serif;font-weight:bold;font-size:32.5px" textLength="35" lengthAdjust="spacingAndGlyphs">H<tspan style="font-weight:normal;font-style:italic">γ</tspan></text>
<text transform="translate(1042.5,168) rotate(-90)" style="font-family:'Liberation Serif',serif;font-weight:bold;font-size:32.5px" textLength="35" lengthAdjust="spacingAndGlyphs">H<tspan style="font-weight:normal;font-style:italic">β</tspan></text>
<text transform="translate(1099.5,292) rotate(-90)" style="font-family:'Liberation Serif',serif;font-weight:bold;font-size:32.5px" textLength="73" lengthAdjust="spacingAndGlyphs">[OIII]</text>
<text transform="translate(1099.5,202) rotate(-90)" style="font-family:'Liberation Serif',serif;font-weight:bold;font-size:32.5px" textLength="70" lengthAdjust="spacingAndGlyphs">4960</text>
<text transform="translate(1161.7,292) rotate(-90)" style="font-family:'Liberation Serif',serif;font-weight:bold;font-size:32.5px" textLength="73" lengthAdjust="spacingAndGlyphs">[OIII]</text>
<text transform="translate(1161.7,201.5) rotate(-90)" style="font-family:'Liberation Serif',serif;font-weight:bold;font-size:32.5px" textLength="69.5" lengthAdjust="spacingAndGlyphs">5008</text>
<text transform="translate(1319,169.5) rotate(-90)" style="font-family:'Liberation Serif',serif;font-weight:bold;font-size:32.5px" textLength="35" lengthAdjust="spacingAndGlyphs">H<tspan style="font-weight:normal;font-style:italic">α</tspan></text>
<text transform="translate(1518,334) rotate(-90)" style="font-family:'Liberation Serif',serif;font-weight:bold;font-size:32.5px" textLength="59.5" lengthAdjust="spacingAndGlyphs">HeI*</text>
<text transform="translate(1518,254.4) rotate(-90)" style="font-family:'Liberation Serif',serif;font-weight:bold;font-size:32.5px" textLength="122.4" lengthAdjust="spacingAndGlyphs">10830×2</text>
<text transform="translate(48.3,775.5) rotate(-90)" style="font-family:'Liberation Serif',serif;font-size:37px" stroke="#000" stroke-width="1.0" textLength="19.1" lengthAdjust="spacingAndGlyphs">F</text>
<text transform="translate(57.3,755.5) rotate(-90)" style="font-family:'Liberation Serif',serif;font-size:21px" textLength="11.0" lengthAdjust="spacingAndGlyphs">λ</text>
<text transform="translate(48.3,725) rotate(-90)" style="font-family:'Liberation Serif',serif;font-size:37px" stroke="#000" stroke-width="1.0" textLength="11.5" lengthAdjust="spacingAndGlyphs">(</text>
<text transform="translate(48.3,706.5) rotate(-90)" style="font-family:'Liberation Serif',serif;font-size:37px" stroke="#000" stroke-width="1.0" textLength="40.0" lengthAdjust="spacingAndGlyphs">10</text>
<text transform="translate(29.5,665.5) rotate(-90)" style="font-family:'Liberation Serif',serif;font-size:22px" stroke="#000" stroke-width="1.0" textLength="40.0" lengthAdjust="spacingAndGlyphs">−17</text>
<text transform="translate(48.3,621.5) rotate(-90)" style="font-family:'Liberation Serif',serif;font-size:38px" stroke="#000" stroke-width="1.0" textLength="60.0" lengthAdjust="spacingAndGlyphs">erg</text>
<text transform="translate(48.3,541) rotate(-90)" style="font-family:'Liberation Serif',serif;font-size:38px" stroke="#000" stroke-width="1.0" textLength="15.5" lengthAdjust="spacingAndGlyphs">s</text>
<text transform="translate(31,522.5) rotate(-90)" style="font-family:'Liberation Serif',serif;font-size:22px" stroke="#000" stroke-width="1.0" textLength="26.5" lengthAdjust="spacingAndGlyphs">−1</text>
<text transform="translate(48.3,473) rotate(-90)" style="font-family:'Liberation Serif',serif;font-size:38px" stroke="#000" stroke-width="1.0" textLength="55.0" lengthAdjust="spacingAndGlyphs">cm</text>
<text transform="translate(31,414.5) rotate(-90)" style="font-family:'Liberation Serif',serif;font-size:22px" stroke="#000" stroke-width="1.0" textLength="30.0" lengthAdjust="spacingAndGlyphs">−2</text>
<text transform="translate(48.3,368.5) rotate(-90)" style="font-family:'Liberation Serif',serif;font-size:37px" stroke="#000" stroke-width="1.0" textLength="20.5" lengthAdjust="spacingAndGlyphs">Å</text>
<text transform="translate(31,346) rotate(-90)" style="font-family:'Liberation Serif',serif;font-size:22px" stroke="#000" stroke-width="1.0" textLength="26.5" lengthAdjust="spacingAndGlyphs">−1</text>
<text transform="translate(48.3,312.5) rotate(-90)" style="font-family:'Liberation Serif',serif;font-size:37px" stroke="#000" stroke-width="1.0" textLength="12.0" lengthAdjust="spacingAndGlyphs">)</text>
<text transform="translate(49.3,1352) rotate(-90)" style="font-family:'Liberation Serif',serif;font-size:37px" stroke="#000" stroke-width="1.0" textLength="216.6" lengthAdjust="spacingAndGlyphs">Normalised</text>
<text transform="translate(49.3,1114.4) rotate(-90)" style="font-family:'Liberation Serif',serif;font-size:37px" stroke="#000" stroke-width="1.0" textLength="19.4" lengthAdjust="spacingAndGlyphs">F</text>
<text transform="translate(57.3,1094.3) rotate(-90)" style="font-family:'Liberation Serif',serif;font-size:21px" textLength="11.0" lengthAdjust="spacingAndGlyphs">λ</text>
<text x="156" y="1332" style="font-family:'Liberation Sans',sans-serif;font-size:30px">0</text>
<text x="194" y="1332" style="font-family:'Liberation Sans',sans-serif;font-size:30px" textLength="70" lengthAdjust="spacingAndGlyphs">4000</text>
<text x="281" y="1332" style="font-family:'Liberation Serif',serif;font-weight:bold;font-size:33px" textLength="48" lengthAdjust="spacingAndGlyphs">km</text>
<text x="345" y="1332" style="font-family:'Liberation Serif',serif;font-weight:bold;font-size:33px">s</text>
<text x="361" y="1317" style="font-family:'Liberation Serif',serif;font-weight:bold;font-size:21px" textLength="21.5" lengthAdjust="spacingAndGlyphs">−1</text>
<polyline points="166,1343 166,1354 204,1354 204,1343" fill="none" stroke="#000" stroke-width="1.8"/>
<line x1="184.5" y1="1354" x2="184.5" y2="1343" stroke="#000" stroke-width="1.8"/>
</svg></body></html>
